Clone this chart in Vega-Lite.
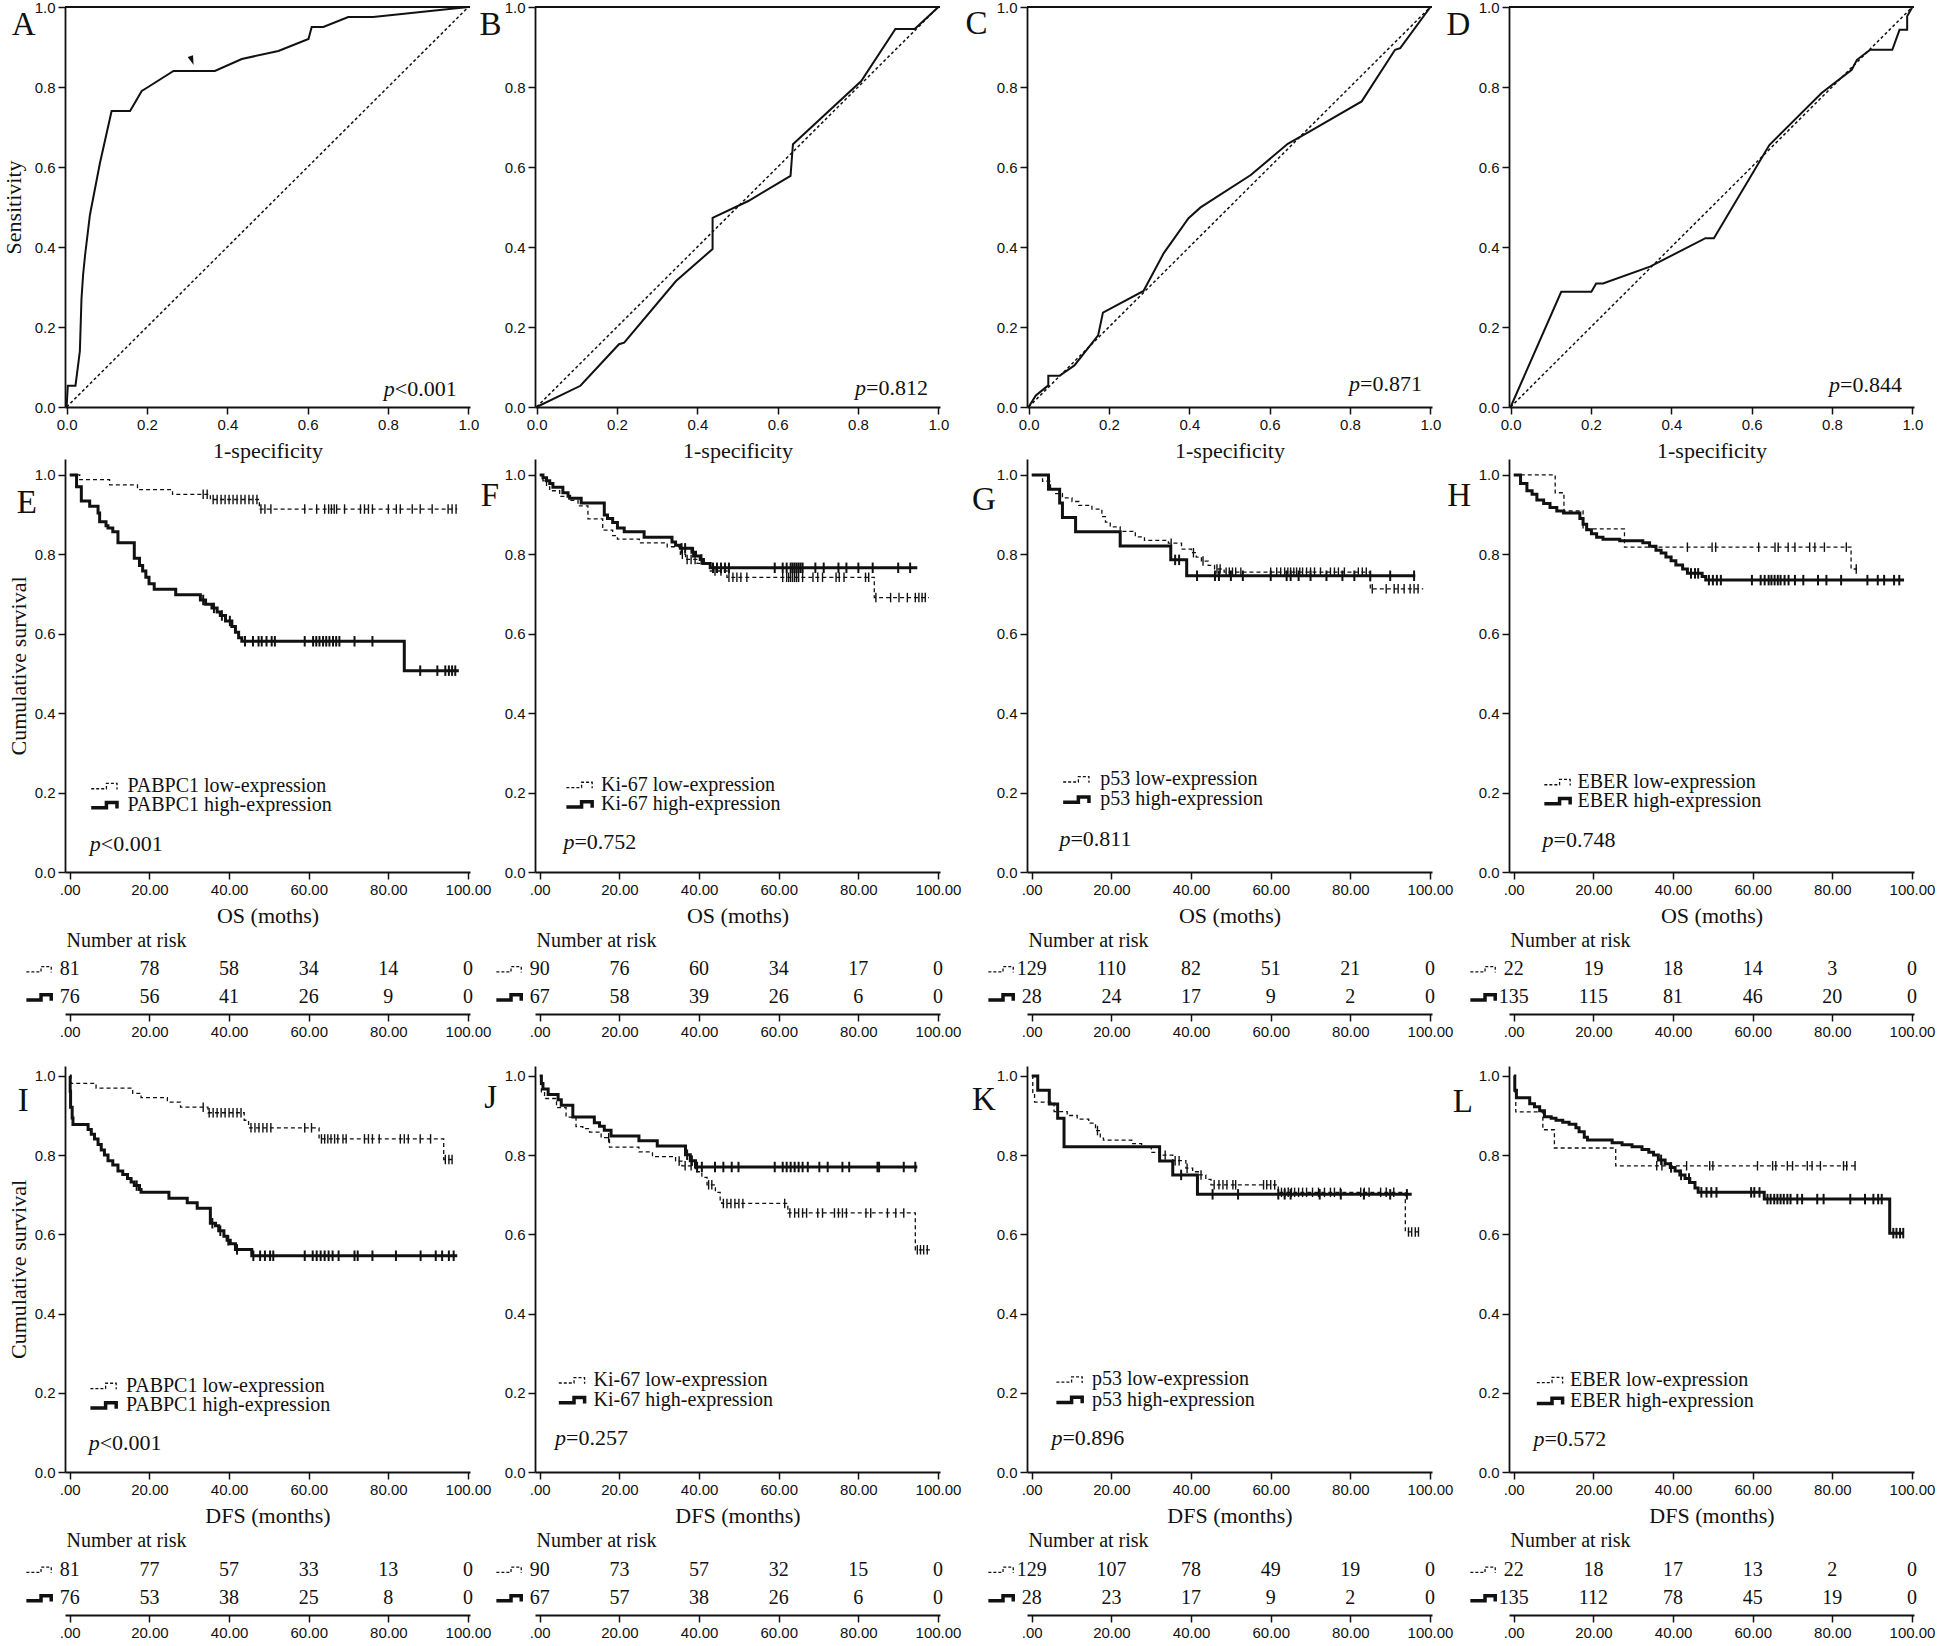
{
"$schema":"https://vega.github.io/schema/vega-lite/v6.json",
"background":"white",
"padding":{"left":2,"top":0,"right":10,"bottom":5},
"config":{
 "view":{"stroke":null},
 "axis":{"domainColor":"#111","domainWidth":1.8,"tickColor":"#111","tickWidth":1.5,"tickSize":7,"labelFont":"Liberation Sans","labelFontSize":15,"labelColor":"#111","titleFont":"Liberation Serif","titleFontSize":22,"titleFontWeight":"normal","titleColor":"#111","grid":false,"labelPadding":3,"titlePadding":6,"labelFlush":false,"labelOverlap":false},
 "axisX":{"titlePadding":8},
 "text":{"font":"Liberation Serif","fontSize":20,"color":"#111","baseline":"middle"}
},
"datasets":{
"roc":[
{"p":"A","fpr":0,"tpr":0},{"p":"A","fpr":0.003,"tpr":0.053},{"p":"A","fpr":0.022,"tpr":0.053},{"p":"A","fpr":0.028,"tpr":0.1},{"p":"A","fpr":0.033,"tpr":0.14},{"p":"A","fpr":0.037,"tpr":0.27},{"p":"A","fpr":0.041,"tpr":0.33},{"p":"A","fpr":0.046,"tpr":0.38},{"p":"A","fpr":0.058,"tpr":0.48},{"p":"A","fpr":0.083,"tpr":0.61},{"p":"A","fpr":0.112,"tpr":0.74},{"p":"A","fpr":0.158,"tpr":0.74},{"p":"A","fpr":0.187,"tpr":0.79},{"p":"A","fpr":0.203,"tpr":0.8},{"p":"A","fpr":0.266,"tpr":0.84},{"p":"A","fpr":0.369,"tpr":0.84},{"p":"A","fpr":0.436,"tpr":0.87},{"p":"A","fpr":0.527,"tpr":0.89},{"p":"A","fpr":0.602,"tpr":0.92},{"p":"A","fpr":0.61,"tpr":0.95},{"p":"A","fpr":0.639,"tpr":0.95},{"p":"A","fpr":0.701,"tpr":0.975},{"p":"A","fpr":0.763,"tpr":0.975},{"p":"A","fpr":1,"tpr":1},
{"p":"B","fpr":0,"tpr":0},{"p":"B","fpr":0.109,"tpr":0.053},{"p":"B","fpr":0.205,"tpr":0.157},{"p":"B","fpr":0.218,"tpr":0.161},{"p":"B","fpr":0.347,"tpr":0.315},{"p":"B","fpr":0.438,"tpr":0.395},{"p":"B","fpr":0.438,"tpr":0.473},{"p":"B","fpr":0.527,"tpr":0.515},{"p":"B","fpr":0.632,"tpr":0.578},{"p":"B","fpr":0.638,"tpr":0.657},{"p":"B","fpr":0.808,"tpr":0.815},{"p":"B","fpr":0.893,"tpr":0.945},{"p":"B","fpr":0.941,"tpr":0.945},{"p":"B","fpr":1,"tpr":1},
{"p":"C","fpr":0,"tpr":0},{"p":"C","fpr":0.018,"tpr":0.029},{"p":"C","fpr":0.049,"tpr":0.054},{"p":"C","fpr":0.049,"tpr":0.078},{"p":"C","fpr":0.077,"tpr":0.078},{"p":"C","fpr":0.114,"tpr":0.104},{"p":"C","fpr":0.173,"tpr":0.179},{"p":"C","fpr":0.185,"tpr":0.236},{"p":"C","fpr":0.286,"tpr":0.29},{"p":"C","fpr":0.336,"tpr":0.384},{"p":"C","fpr":0.398,"tpr":0.472},{"p":"C","fpr":0.428,"tpr":0.499},{"p":"C","fpr":0.553,"tpr":0.58},{"p":"C","fpr":0.645,"tpr":0.658},{"p":"C","fpr":0.7,"tpr":0.689},{"p":"C","fpr":0.829,"tpr":0.764},{"p":"C","fpr":0.912,"tpr":0.893},{"p":"C","fpr":0.925,"tpr":0.897},{"p":"C","fpr":1,"tpr":1},
{"p":"D","fpr":0,"tpr":0},{"p":"D","fpr":0.126,"tpr":0.288},{"p":"D","fpr":0.201,"tpr":0.288},{"p":"D","fpr":0.213,"tpr":0.309},{"p":"D","fpr":0.23,"tpr":0.309},{"p":"D","fpr":0.347,"tpr":0.351},{"p":"D","fpr":0.485,"tpr":0.422},{"p":"D","fpr":0.506,"tpr":0.422},{"p":"D","fpr":0.644,"tpr":0.655},{"p":"D","fpr":0.774,"tpr":0.785},{"p":"D","fpr":0.849,"tpr":0.843},{"p":"D","fpr":0.862,"tpr":0.868},{"p":"D","fpr":0.895,"tpr":0.893},{"p":"D","fpr":0.95,"tpr":0.893},{"p":"D","fpr":0.968,"tpr":0.943},{"p":"D","fpr":0.987,"tpr":0.943},{"p":"D","fpr":0.987,"tpr":0.977},{"p":"D","fpr":1,"tpr":1}
],
"km":[
{"p":"E","g":"lo","t":0,"s":1},{"p":"E","g":"lo","t":2.5,"s":0.988},{"p":"E","g":"lo","t":10,"s":0.975},{"p":"E","g":"lo","t":17,"s":0.963},{"p":"E","g":"lo","t":25.8,"s":0.951},{"p":"E","g":"lo","t":35.3,"s":0.938},{"p":"E","g":"lo","t":47.6,"s":0.914},{"p":"E","g":"lo","t":97.3,"s":0.914},
{"p":"E","g":"hi","t":0,"s":1},{"p":"E","g":"hi","t":1.7,"s":0.97},{"p":"E","g":"hi","t":2.9,"s":0.934},{"p":"E","g":"hi","t":5,"s":0.921},{"p":"E","g":"hi","t":7.1,"s":0.904},{"p":"E","g":"hi","t":7.5,"s":0.882},{"p":"E","g":"hi","t":9.1,"s":0.872},{"p":"E","g":"hi","t":9.6,"s":0.866},{"p":"E","g":"hi","t":10.8,"s":0.857},{"p":"E","g":"hi","t":12.1,"s":0.829},{"p":"E","g":"hi","t":16.2,"s":0.79},{"p":"E","g":"hi","t":17.5,"s":0.772},{"p":"E","g":"hi","t":18.3,"s":0.758},{"p":"E","g":"hi","t":19.1,"s":0.742},{"p":"E","g":"hi","t":19.9,"s":0.726},{"p":"E","g":"hi","t":21.2,"s":0.712},{"p":"E","g":"hi","t":26.6,"s":0.698},{"p":"E","g":"hi","t":32.8,"s":0.685},{"p":"E","g":"hi","t":34.1,"s":0.674},{"p":"E","g":"hi","t":35.7,"s":0.665},{"p":"E","g":"hi","t":37,"s":0.655},{"p":"E","g":"hi","t":37.8,"s":0.646},{"p":"E","g":"hi","t":39.1,"s":0.632},{"p":"E","g":"hi","t":40.7,"s":0.618},{"p":"E","g":"hi","t":41.6,"s":0.604},{"p":"E","g":"hi","t":42.4,"s":0.59},{"p":"E","g":"hi","t":43.2,"s":0.581},{"p":"E","g":"hi","t":84,"s":0.507},{"p":"E","g":"hi","t":97.7,"s":0.507},
{"p":"F","g":"lo","t":0,"s":1},{"p":"F","g":"lo","t":0.8,"s":0.985},{"p":"F","g":"lo","t":1.7,"s":0.97},{"p":"F","g":"lo","t":2.5,"s":0.96},{"p":"F","g":"lo","t":5,"s":0.946},{"p":"F","g":"lo","t":7.5,"s":0.936},{"p":"F","g":"lo","t":9.6,"s":0.922},{"p":"F","g":"lo","t":12.1,"s":0.889},{"p":"F","g":"lo","t":15.8,"s":0.861},{"p":"F","g":"lo","t":18.3,"s":0.847},{"p":"F","g":"lo","t":19.5,"s":0.838},{"p":"F","g":"lo","t":25,"s":0.829},{"p":"F","g":"lo","t":32,"s":0.819},{"p":"F","g":"lo","t":35.3,"s":0.8},{"p":"F","g":"lo","t":36.6,"s":0.787},{"p":"F","g":"lo","t":39.5,"s":0.777},{"p":"F","g":"lo","t":42.8,"s":0.758},{"p":"F","g":"lo","t":47,"s":0.742},{"p":"F","g":"lo","t":84,"s":0.691},{"p":"F","g":"lo","t":97.7,"s":0.691},
{"p":"F","g":"hi","t":0,"s":1},{"p":"F","g":"hi","t":0.8,"s":0.993},{"p":"F","g":"hi","t":1.7,"s":0.985},{"p":"F","g":"hi","t":2.5,"s":0.978},{"p":"F","g":"hi","t":3.3,"s":0.969},{"p":"F","g":"hi","t":5.8,"s":0.955},{"p":"F","g":"hi","t":7.1,"s":0.946},{"p":"F","g":"hi","t":7.5,"s":0.941},{"p":"F","g":"hi","t":10.4,"s":0.929},{"p":"F","g":"hi","t":16.2,"s":0.899},{"p":"F","g":"hi","t":17,"s":0.89},{"p":"F","g":"hi","t":18.3,"s":0.88},{"p":"F","g":"hi","t":19.5,"s":0.866},{"p":"F","g":"hi","t":21.2,"s":0.857},{"p":"F","g":"hi","t":26.2,"s":0.843},{"p":"F","g":"hi","t":33.2,"s":0.831},{"p":"F","g":"hi","t":34.1,"s":0.823},{"p":"F","g":"hi","t":35.3,"s":0.815},{"p":"F","g":"hi","t":38.2,"s":0.805},{"p":"F","g":"hi","t":39.1,"s":0.796},{"p":"F","g":"hi","t":40.3,"s":0.787},{"p":"F","g":"hi","t":41.1,"s":0.777},{"p":"F","g":"hi","t":42.8,"s":0.766},{"p":"F","g":"hi","t":94.8,"s":0.766},
{"p":"G","g":"lo","t":0,"s":1},{"p":"G","g":"lo","t":2.7,"s":0.984},{"p":"G","g":"lo","t":4.7,"s":0.965},{"p":"G","g":"lo","t":6,"s":0.953},{"p":"G","g":"lo","t":7.7,"s":0.942},{"p":"G","g":"lo","t":10.1,"s":0.933},{"p":"G","g":"lo","t":11.8,"s":0.923},{"p":"G","g":"lo","t":15.1,"s":0.914},{"p":"G","g":"lo","t":17.6,"s":0.895},{"p":"G","g":"lo","t":18.5,"s":0.881},{"p":"G","g":"lo","t":19.7,"s":0.869},{"p":"G","g":"lo","t":22.2,"s":0.858},{"p":"G","g":"lo","t":26,"s":0.844},{"p":"G","g":"lo","t":28.3,"s":0.835},{"p":"G","g":"lo","t":34.3,"s":0.828},{"p":"G","g":"lo","t":37.6,"s":0.813},{"p":"G","g":"lo","t":40.1,"s":0.804},{"p":"G","g":"lo","t":41.3,"s":0.793},{"p":"G","g":"lo","t":42.6,"s":0.783},{"p":"G","g":"lo","t":44.3,"s":0.772},{"p":"G","g":"lo","t":45.9,"s":0.763},{"p":"G","g":"lo","t":48.3,"s":0.755},{"p":"G","g":"lo","t":85,"s":0.713},{"p":"G","g":"lo","t":98.3,"s":0.713},
{"p":"G","g":"hi","t":0,"s":1},{"p":"G","g":"hi","t":4.2,"s":0.964},{"p":"G","g":"hi","t":7,"s":0.929},{"p":"G","g":"hi","t":7.7,"s":0.893},{"p":"G","g":"hi","t":11,"s":0.857},{"p":"G","g":"hi","t":22.2,"s":0.821},{"p":"G","g":"hi","t":34.9,"s":0.786},{"p":"G","g":"hi","t":38.9,"s":0.746},{"p":"G","g":"hi","t":96.3,"s":0.746},
{"p":"H","g":"lo","t":0,"s":1},{"p":"H","g":"lo","t":10.4,"s":0.955},{"p":"H","g":"lo","t":12.6,"s":0.909},{"p":"H","g":"lo","t":17.4,"s":0.864},{"p":"H","g":"lo","t":27.8,"s":0.818},{"p":"H","g":"lo","t":84.7,"s":0.763},{"p":"H","g":"lo","t":86.2,"s":0.763},
{"p":"H","g":"hi","t":0,"s":1},{"p":"H","g":"hi","t":1.7,"s":0.978},{"p":"H","g":"hi","t":3.3,"s":0.96},{"p":"H","g":"hi","t":4.6,"s":0.951},{"p":"H","g":"hi","t":5.8,"s":0.937},{"p":"H","g":"hi","t":7.5,"s":0.928},{"p":"H","g":"hi","t":9.1,"s":0.918},{"p":"H","g":"hi","t":10.8,"s":0.909},{"p":"H","g":"hi","t":12.5,"s":0.904},{"p":"H","g":"hi","t":16.6,"s":0.89},{"p":"H","g":"hi","t":17.4,"s":0.876},{"p":"H","g":"hi","t":18.3,"s":0.862},{"p":"H","g":"hi","t":19.5,"s":0.852},{"p":"H","g":"hi","t":20.8,"s":0.843},{"p":"H","g":"hi","t":22.4,"s":0.838},{"p":"H","g":"hi","t":26.6,"s":0.834},{"p":"H","g":"hi","t":32.4,"s":0.829},{"p":"H","g":"hi","t":34.1,"s":0.82},{"p":"H","g":"hi","t":35.7,"s":0.81},{"p":"H","g":"hi","t":37,"s":0.803},{"p":"H","g":"hi","t":38.2,"s":0.793},{"p":"H","g":"hi","t":39.5,"s":0.784},{"p":"H","g":"hi","t":40.7,"s":0.773},{"p":"H","g":"hi","t":42.4,"s":0.763},{"p":"H","g":"hi","t":43.6,"s":0.752},{"p":"H","g":"hi","t":47.3,"s":0.744},{"p":"H","g":"hi","t":48.2,"s":0.735},{"p":"H","g":"hi","t":98,"s":0.735},
{"p":"I","g":"lo","t":0,"s":1},{"p":"I","g":"lo","t":0.3,"s":0.981},{"p":"I","g":"lo","t":6.6,"s":0.969},{"p":"I","g":"lo","t":15.8,"s":0.956},{"p":"I","g":"lo","t":17.9,"s":0.945},{"p":"I","g":"lo","t":24.5,"s":0.934},{"p":"I","g":"lo","t":27.8,"s":0.921},{"p":"I","g":"lo","t":34.7,"s":0.907},{"p":"I","g":"lo","t":43.8,"s":0.888},{"p":"I","g":"lo","t":44.9,"s":0.869},{"p":"I","g":"lo","t":62.6,"s":0.841},{"p":"I","g":"lo","t":93.9,"s":0.789},{"p":"I","g":"lo","t":96.8,"s":0.789},
{"p":"I","g":"hi","t":0,"s":1},{"p":"I","g":"hi","t":0.1,"s":0.961},{"p":"I","g":"hi","t":0.2,"s":0.921},{"p":"I","g":"hi","t":0.6,"s":0.894},{"p":"I","g":"hi","t":0.8,"s":0.877},{"p":"I","g":"hi","t":4.6,"s":0.865},{"p":"I","g":"hi","t":5.4,"s":0.853},{"p":"I","g":"hi","t":6.2,"s":0.841},{"p":"I","g":"hi","t":7.1,"s":0.827},{"p":"I","g":"hi","t":7.9,"s":0.813},{"p":"I","g":"hi","t":8.7,"s":0.8},{"p":"I","g":"hi","t":9.6,"s":0.786},{"p":"I","g":"hi","t":10.8,"s":0.775},{"p":"I","g":"hi","t":12.1,"s":0.76},{"p":"I","g":"hi","t":13.3,"s":0.751},{"p":"I","g":"hi","t":14.5,"s":0.741},{"p":"I","g":"hi","t":15.4,"s":0.732},{"p":"I","g":"hi","t":16.2,"s":0.723},{"p":"I","g":"hi","t":17.5,"s":0.713},{"p":"I","g":"hi","t":17.9,"s":0.706},{"p":"I","g":"hi","t":24.9,"s":0.691},{"p":"I","g":"hi","t":29.5,"s":0.68},{"p":"I","g":"hi","t":32,"s":0.666},{"p":"I","g":"hi","t":35.3,"s":0.628},{"p":"I","g":"hi","t":36.6,"s":0.622},{"p":"I","g":"hi","t":37.4,"s":0.609},{"p":"I","g":"hi","t":38.7,"s":0.595},{"p":"I","g":"hi","t":39.5,"s":0.585},{"p":"I","g":"hi","t":40.3,"s":0.576},{"p":"I","g":"hi","t":41.6,"s":0.562},{"p":"I","g":"hi","t":45.7,"s":0.546},{"p":"I","g":"hi","t":97.3,"s":0.546},
{"p":"J","g":"lo","t":0,"s":1},{"p":"J","g":"lo","t":0.4,"s":0.96},{"p":"J","g":"lo","t":1.2,"s":0.943},{"p":"J","g":"lo","t":4.2,"s":0.92},{"p":"J","g":"lo","t":6.6,"s":0.896},{"p":"J","g":"lo","t":9.1,"s":0.872},{"p":"J","g":"lo","t":10.8,"s":0.867},{"p":"J","g":"lo","t":12.5,"s":0.858},{"p":"J","g":"lo","t":15.4,"s":0.844},{"p":"J","g":"lo","t":17.5,"s":0.82},{"p":"J","g":"lo","t":24.9,"s":0.808},{"p":"J","g":"lo","t":28.3,"s":0.796},{"p":"J","g":"lo","t":34.1,"s":0.785},{"p":"J","g":"lo","t":35.7,"s":0.773},{"p":"J","g":"lo","t":39.1,"s":0.758},{"p":"J","g":"lo","t":40.7,"s":0.744},{"p":"J","g":"lo","t":42,"s":0.725},{"p":"J","g":"lo","t":44.1,"s":0.706},{"p":"J","g":"lo","t":45.3,"s":0.687},{"p":"J","g":"lo","t":45.7,"s":0.678},{"p":"J","g":"lo","t":62.3,"s":0.654},{"p":"J","g":"lo","t":94.3,"s":0.561},{"p":"J","g":"lo","t":98.1,"s":0.561},
{"p":"J","g":"hi","t":0,"s":1},{"p":"J","g":"hi","t":0.4,"s":0.981},{"p":"J","g":"hi","t":0.8,"s":0.967},{"p":"J","g":"hi","t":2.1,"s":0.953},{"p":"J","g":"hi","t":4.6,"s":0.94},{"p":"J","g":"hi","t":5.4,"s":0.926},{"p":"J","g":"hi","t":8.3,"s":0.896},{"p":"J","g":"hi","t":13.7,"s":0.882},{"p":"J","g":"hi","t":15,"s":0.873},{"p":"J","g":"hi","t":16.2,"s":0.863},{"p":"J","g":"hi","t":17.9,"s":0.848},{"p":"J","g":"hi","t":24.9,"s":0.836},{"p":"J","g":"hi","t":29.5,"s":0.823},{"p":"J","g":"hi","t":36.6,"s":0.801},{"p":"J","g":"hi","t":37.8,"s":0.786},{"p":"J","g":"hi","t":39.1,"s":0.77},{"p":"J","g":"hi","t":94.8,"s":0.77},
{"p":"K","g":"lo","t":0,"s":1},{"p":"K","g":"lo","t":0.25,"s":0.957},{"p":"K","g":"lo","t":0.7,"s":0.934},{"p":"K","g":"lo","t":5.6,"s":0.91},{"p":"K","g":"lo","t":8.9,"s":0.9},{"p":"K","g":"lo","t":11.4,"s":0.891},{"p":"K","g":"lo","t":14.3,"s":0.881},{"p":"K","g":"lo","t":16,"s":0.862},{"p":"K","g":"lo","t":17.2,"s":0.843},{"p":"K","g":"lo","t":18,"s":0.838},{"p":"K","g":"lo","t":25.1,"s":0.829},{"p":"K","g":"lo","t":27.6,"s":0.82},{"p":"K","g":"lo","t":30,"s":0.807},{"p":"K","g":"lo","t":32.1,"s":0.8},{"p":"K","g":"lo","t":35.4,"s":0.786},{"p":"K","g":"lo","t":38.7,"s":0.767},{"p":"K","g":"lo","t":40.4,"s":0.758},{"p":"K","g":"lo","t":42,"s":0.75},{"p":"K","g":"lo","t":43.7,"s":0.739},{"p":"K","g":"lo","t":45,"s":0.725},{"p":"K","g":"lo","t":61.9,"s":0.706},{"p":"K","g":"lo","t":93.8,"s":0.606},{"p":"K","g":"lo","t":97.1,"s":0.606},
{"p":"K","g":"hi","t":0,"s":1},{"p":"K","g":"hi","t":1.5,"s":0.964},{"p":"K","g":"hi","t":4.4,"s":0.929},{"p":"K","g":"hi","t":6.5,"s":0.893},{"p":"K","g":"hi","t":8.1,"s":0.821},{"p":"K","g":"hi","t":32.1,"s":0.785},{"p":"K","g":"hi","t":35.4,"s":0.75},{"p":"K","g":"hi","t":41.6,"s":0.701},{"p":"K","g":"hi","t":95.4,"s":0.701},
{"p":"L","g":"lo","t":0,"s":1},{"p":"L","g":"lo","t":0.3,"s":0.955},{"p":"L","g":"lo","t":0.5,"s":0.909},{"p":"L","g":"lo","t":7.3,"s":0.864},{"p":"L","g":"lo","t":10.2,"s":0.818},{"p":"L","g":"lo","t":25.6,"s":0.773},{"p":"L","g":"lo","t":86,"s":0.773},
{"p":"L","g":"hi","t":0,"s":1},{"p":"L","g":"hi","t":0.25,"s":0.964},{"p":"L","g":"hi","t":0.66,"s":0.945},{"p":"L","g":"hi","t":4,"s":0.93},{"p":"L","g":"hi","t":5.2,"s":0.922},{"p":"L","g":"hi","t":6.5,"s":0.912},{"p":"L","g":"hi","t":7.7,"s":0.897},{"p":"L","g":"hi","t":9.4,"s":0.893},{"p":"L","g":"hi","t":10.6,"s":0.888},{"p":"L","g":"hi","t":12.3,"s":0.883},{"p":"L","g":"hi","t":13.9,"s":0.878},{"p":"L","g":"hi","t":15.6,"s":0.869},{"p":"L","g":"hi","t":16.4,"s":0.859},{"p":"L","g":"hi","t":17.7,"s":0.845},{"p":"L","g":"hi","t":18.5,"s":0.838},{"p":"L","g":"hi","t":24.7,"s":0.831},{"p":"L","g":"hi","t":27.2,"s":0.826},{"p":"L","g":"hi","t":29.7,"s":0.821},{"p":"L","g":"hi","t":32.2,"s":0.814},{"p":"L","g":"hi","t":33.9,"s":0.807},{"p":"L","g":"hi","t":35.1,"s":0.8},{"p":"L","g":"hi","t":36.3,"s":0.788},{"p":"L","g":"hi","t":38,"s":0.778},{"p":"L","g":"hi","t":39.3,"s":0.769},{"p":"L","g":"hi","t":40.5,"s":0.76},{"p":"L","g":"hi","t":41.7,"s":0.75},{"p":"L","g":"hi","t":43,"s":0.741},{"p":"L","g":"hi","t":44.2,"s":0.731},{"p":"L","g":"hi","t":45.5,"s":0.717},{"p":"L","g":"hi","t":46.3,"s":0.706},{"p":"L","g":"hi","t":62.9,"s":0.689},{"p":"L","g":"hi","t":94.4,"s":0.603},{"p":"L","g":"hi","t":97.8,"s":0.603}
],
"cens":[
{"p":"E","g":"lo","t":33.5,"s":0.951},{"p":"E","g":"lo","t":34.5,"s":0.951},{"p":"E","g":"lo","t":36,"s":0.938},{"p":"E","g":"lo","t":37,"s":0.938},{"p":"E","g":"lo","t":38,"s":0.938},{"p":"E","g":"lo","t":39,"s":0.938},{"p":"E","g":"lo","t":40,"s":0.938},{"p":"E","g":"lo","t":41,"s":0.938},{"p":"E","g":"lo","t":42,"s":0.938},{"p":"E","g":"lo","t":43,"s":0.938},{"p":"E","g":"lo","t":44,"s":0.938},{"p":"E","g":"lo","t":45,"s":0.938},{"p":"E","g":"lo","t":46,"s":0.938},{"p":"E","g":"lo","t":47,"s":0.938},{"p":"E","g":"lo","t":48,"s":0.914},{"p":"E","g":"lo","t":49,"s":0.914},{"p":"E","g":"lo","t":50.5,"s":0.914},{"p":"E","g":"lo","t":59,"s":0.914},{"p":"E","g":"lo","t":62,"s":0.914},{"p":"E","g":"lo","t":64,"s":0.914},{"p":"E","g":"lo","t":65,"s":0.914},{"p":"E","g":"lo","t":65.7,"s":0.914},{"p":"E","g":"lo","t":66.4,"s":0.914},{"p":"E","g":"lo","t":67,"s":0.914},{"p":"E","g":"lo","t":69,"s":0.914},{"p":"E","g":"lo","t":73,"s":0.914},{"p":"E","g":"lo","t":74,"s":0.914},{"p":"E","g":"lo","t":75,"s":0.914},{"p":"E","g":"lo","t":76,"s":0.914},{"p":"E","g":"lo","t":80,"s":0.914},{"p":"E","g":"lo","t":82,"s":0.914},{"p":"E","g":"lo","t":83,"s":0.914},{"p":"E","g":"lo","t":86,"s":0.914},{"p":"E","g":"lo","t":88,"s":0.914},{"p":"E","g":"lo","t":91,"s":0.914},{"p":"E","g":"lo","t":95,"s":0.914},{"p":"E","g":"lo","t":96,"s":0.914},{"p":"E","g":"lo","t":97,"s":0.914},
{"p":"E","g":"hi","t":33.5,"s":0.685},{"p":"E","g":"hi","t":36.2,"s":0.665},{"p":"E","g":"hi","t":38.2,"s":0.646},{"p":"E","g":"hi","t":40.2,"s":0.632},{"p":"E","g":"hi","t":44,"s":0.581},{"p":"E","g":"hi","t":46,"s":0.581},{"p":"E","g":"hi","t":47.4,"s":0.581},{"p":"E","g":"hi","t":48.2,"s":0.581},{"p":"E","g":"hi","t":49.4,"s":0.581},{"p":"E","g":"hi","t":50.7,"s":0.581},{"p":"E","g":"hi","t":51.5,"s":0.581},{"p":"E","g":"hi","t":59,"s":0.581},{"p":"E","g":"hi","t":61.1,"s":0.581},{"p":"E","g":"hi","t":61.9,"s":0.581},{"p":"E","g":"hi","t":62.7,"s":0.581},{"p":"E","g":"hi","t":63.6,"s":0.581},{"p":"E","g":"hi","t":64.4,"s":0.581},{"p":"E","g":"hi","t":65.2,"s":0.581},{"p":"E","g":"hi","t":66.1,"s":0.581},{"p":"E","g":"hi","t":66.9,"s":0.581},{"p":"E","g":"hi","t":67.7,"s":0.581},{"p":"E","g":"hi","t":71.5,"s":0.581},{"p":"E","g":"hi","t":76,"s":0.581},{"p":"E","g":"hi","t":88,"s":0.507},{"p":"E","g":"hi","t":92.3,"s":0.507},{"p":"E","g":"hi","t":94.3,"s":0.507},{"p":"E","g":"hi","t":95.2,"s":0.507},{"p":"E","g":"hi","t":96,"s":0.507},{"p":"E","g":"hi","t":96.8,"s":0.507},
{"p":"F","g":"lo","t":35.8,"s":0.8},{"p":"F","g":"lo","t":37,"s":0.787},{"p":"F","g":"lo","t":38,"s":0.787},{"p":"F","g":"lo","t":39,"s":0.787},{"p":"F","g":"lo","t":44,"s":0.758},{"p":"F","g":"lo","t":45.5,"s":0.758},{"p":"F","g":"lo","t":47.5,"s":0.742},{"p":"F","g":"lo","t":48.5,"s":0.742},{"p":"F","g":"lo","t":49.5,"s":0.742},{"p":"F","g":"lo","t":50.5,"s":0.742},{"p":"F","g":"lo","t":52,"s":0.742},{"p":"F","g":"lo","t":61,"s":0.742},{"p":"F","g":"lo","t":62,"s":0.742},{"p":"F","g":"lo","t":62.5,"s":0.742},{"p":"F","g":"lo","t":63,"s":0.742},{"p":"F","g":"lo","t":63.5,"s":0.742},{"p":"F","g":"lo","t":64,"s":0.742},{"p":"F","g":"lo","t":64.5,"s":0.742},{"p":"F","g":"lo","t":65,"s":0.742},{"p":"F","g":"lo","t":66,"s":0.742},{"p":"F","g":"lo","t":68.6,"s":0.742},{"p":"F","g":"lo","t":69.8,"s":0.742},{"p":"F","g":"lo","t":71,"s":0.742},{"p":"F","g":"lo","t":74.4,"s":0.742},{"p":"F","g":"lo","t":75.2,"s":0.742},{"p":"F","g":"lo","t":76.4,"s":0.742},{"p":"F","g":"lo","t":81.8,"s":0.742},{"p":"F","g":"lo","t":82.6,"s":0.742},{"p":"F","g":"lo","t":84.4,"s":0.691},{"p":"F","g":"lo","t":88.1,"s":0.691},{"p":"F","g":"lo","t":90.2,"s":0.691},{"p":"F","g":"lo","t":92.3,"s":0.691},{"p":"F","g":"lo","t":94.3,"s":0.691},{"p":"F","g":"lo","t":95.2,"s":0.691},{"p":"F","g":"lo","t":96,"s":0.691},{"p":"F","g":"lo","t":96.8,"s":0.691},
{"p":"F","g":"hi","t":35.6,"s":0.815},{"p":"F","g":"hi","t":36.5,"s":0.815},{"p":"F","g":"hi","t":38.5,"s":0.805},{"p":"F","g":"hi","t":40.6,"s":0.787},{"p":"F","g":"hi","t":43.5,"s":0.766},{"p":"F","g":"hi","t":44.5,"s":0.766},{"p":"F","g":"hi","t":45.5,"s":0.766},{"p":"F","g":"hi","t":46.5,"s":0.766},{"p":"F","g":"hi","t":47.5,"s":0.766},{"p":"F","g":"hi","t":59,"s":0.766},{"p":"F","g":"hi","t":61,"s":0.766},{"p":"F","g":"hi","t":62,"s":0.766},{"p":"F","g":"hi","t":63,"s":0.766},{"p":"F","g":"hi","t":63.5,"s":0.766},{"p":"F","g":"hi","t":64,"s":0.766},{"p":"F","g":"hi","t":64.5,"s":0.766},{"p":"F","g":"hi","t":65,"s":0.766},{"p":"F","g":"hi","t":65.5,"s":0.766},{"p":"F","g":"hi","t":66,"s":0.766},{"p":"F","g":"hi","t":69.2,"s":0.766},{"p":"F","g":"hi","t":71.3,"s":0.766},{"p":"F","g":"hi","t":75,"s":0.766},{"p":"F","g":"hi","t":77,"s":0.766},{"p":"F","g":"hi","t":80,"s":0.766},{"p":"F","g":"hi","t":83.6,"s":0.766},{"p":"F","g":"hi","t":90,"s":0.766},{"p":"F","g":"hi","t":93,"s":0.766},
{"p":"G","g":"lo","t":35,"s":0.828},{"p":"G","g":"lo","t":40.6,"s":0.804},{"p":"G","g":"lo","t":43,"s":0.783},{"p":"G","g":"lo","t":46.5,"s":0.763},{"p":"G","g":"lo","t":47.3,"s":0.763},{"p":"G","g":"lo","t":48.8,"s":0.755},{"p":"G","g":"lo","t":49.6,"s":0.755},{"p":"G","g":"lo","t":50.4,"s":0.755},{"p":"G","g":"lo","t":51.2,"s":0.755},{"p":"G","g":"lo","t":52.5,"s":0.755},{"p":"G","g":"lo","t":60,"s":0.755},{"p":"G","g":"lo","t":61.5,"s":0.755},{"p":"G","g":"lo","t":62.5,"s":0.755},{"p":"G","g":"lo","t":63.5,"s":0.755},{"p":"G","g":"lo","t":64.3,"s":0.755},{"p":"G","g":"lo","t":65,"s":0.755},{"p":"G","g":"lo","t":65.8,"s":0.755},{"p":"G","g":"lo","t":66.5,"s":0.755},{"p":"G","g":"lo","t":67.3,"s":0.755},{"p":"G","g":"lo","t":68,"s":0.755},{"p":"G","g":"lo","t":69,"s":0.755},{"p":"G","g":"lo","t":70,"s":0.755},{"p":"G","g":"lo","t":71,"s":0.755},{"p":"G","g":"lo","t":72.5,"s":0.755},{"p":"G","g":"lo","t":75,"s":0.755},{"p":"G","g":"lo","t":76,"s":0.755},{"p":"G","g":"lo","t":77,"s":0.755},{"p":"G","g":"lo","t":78.5,"s":0.755},{"p":"G","g":"lo","t":82,"s":0.755},{"p":"G","g":"lo","t":83,"s":0.755},{"p":"G","g":"lo","t":84,"s":0.755},{"p":"G","g":"lo","t":85.5,"s":0.713},{"p":"G","g":"lo","t":89,"s":0.713},{"p":"G","g":"lo","t":91,"s":0.713},{"p":"G","g":"lo","t":92,"s":0.713},{"p":"G","g":"lo","t":93.5,"s":0.713},{"p":"G","g":"lo","t":95,"s":0.713},{"p":"G","g":"lo","t":96,"s":0.713},{"p":"G","g":"lo","t":97,"s":0.713},
{"p":"G","g":"hi","t":36,"s":0.786},{"p":"G","g":"hi","t":37,"s":0.786},{"p":"G","g":"hi","t":41.5,"s":0.746},{"p":"G","g":"hi","t":46,"s":0.746},{"p":"G","g":"hi","t":47,"s":0.746},{"p":"G","g":"hi","t":50,"s":0.746},{"p":"G","g":"hi","t":53,"s":0.746},{"p":"G","g":"hi","t":60,"s":0.746},{"p":"G","g":"hi","t":64,"s":0.746},{"p":"G","g":"hi","t":65,"s":0.746},{"p":"G","g":"hi","t":67,"s":0.746},{"p":"G","g":"hi","t":70,"s":0.746},{"p":"G","g":"hi","t":74,"s":0.746},{"p":"G","g":"hi","t":78,"s":0.746},{"p":"G","g":"hi","t":81,"s":0.746},{"p":"G","g":"hi","t":85,"s":0.746},{"p":"G","g":"hi","t":90,"s":0.746},{"p":"G","g":"hi","t":96,"s":0.746},
{"p":"H","g":"lo","t":43.6,"s":0.818},{"p":"H","g":"lo","t":49.8,"s":0.818},{"p":"H","g":"lo","t":50.7,"s":0.818},{"p":"H","g":"lo","t":61.5,"s":0.818},{"p":"H","g":"lo","t":65.6,"s":0.818},{"p":"H","g":"lo","t":66.4,"s":0.818},{"p":"H","g":"lo","t":68.9,"s":0.818},{"p":"H","g":"lo","t":70.6,"s":0.818},{"p":"H","g":"lo","t":74.3,"s":0.818},{"p":"H","g":"lo","t":75.6,"s":0.818},{"p":"H","g":"lo","t":78,"s":0.818},{"p":"H","g":"lo","t":83.5,"s":0.818},{"p":"H","g":"lo","t":86,"s":0.763},
{"p":"H","g":"hi","t":44.5,"s":0.752},{"p":"H","g":"hi","t":45.5,"s":0.752},{"p":"H","g":"hi","t":46.3,"s":0.752},{"p":"H","g":"hi","t":49,"s":0.735},{"p":"H","g":"hi","t":50,"s":0.735},{"p":"H","g":"hi","t":51,"s":0.735},{"p":"H","g":"hi","t":52,"s":0.735},{"p":"H","g":"hi","t":59.8,"s":0.735},{"p":"H","g":"hi","t":62,"s":0.735},{"p":"H","g":"hi","t":63,"s":0.735},{"p":"H","g":"hi","t":64,"s":0.735},{"p":"H","g":"hi","t":64.7,"s":0.735},{"p":"H","g":"hi","t":65.5,"s":0.735},{"p":"H","g":"hi","t":66.3,"s":0.735},{"p":"H","g":"hi","t":67,"s":0.735},{"p":"H","g":"hi","t":68,"s":0.735},{"p":"H","g":"hi","t":69,"s":0.735},{"p":"H","g":"hi","t":70.6,"s":0.735},{"p":"H","g":"hi","t":72.7,"s":0.735},{"p":"H","g":"hi","t":76.4,"s":0.735},{"p":"H","g":"hi","t":78.5,"s":0.735},{"p":"H","g":"hi","t":82.2,"s":0.735},{"p":"H","g":"hi","t":88.8,"s":0.735},{"p":"H","g":"hi","t":91.4,"s":0.735},{"p":"H","g":"hi","t":93,"s":0.735},{"p":"H","g":"hi","t":95.5,"s":0.735},{"p":"H","g":"hi","t":96.8,"s":0.735},
{"p":"I","g":"lo","t":33.5,"s":0.921},{"p":"I","g":"lo","t":35,"s":0.907},{"p":"I","g":"lo","t":36,"s":0.907},{"p":"I","g":"lo","t":37,"s":0.907},{"p":"I","g":"lo","t":38,"s":0.907},{"p":"I","g":"lo","t":39,"s":0.907},{"p":"I","g":"lo","t":40,"s":0.907},{"p":"I","g":"lo","t":41,"s":0.907},{"p":"I","g":"lo","t":42,"s":0.907},{"p":"I","g":"lo","t":43,"s":0.907},{"p":"I","g":"lo","t":45.5,"s":0.869},{"p":"I","g":"lo","t":46.5,"s":0.869},{"p":"I","g":"lo","t":47.5,"s":0.869},{"p":"I","g":"lo","t":48.5,"s":0.869},{"p":"I","g":"lo","t":49.5,"s":0.869},{"p":"I","g":"lo","t":50.5,"s":0.869},{"p":"I","g":"lo","t":59,"s":0.869},{"p":"I","g":"lo","t":60.7,"s":0.869},{"p":"I","g":"lo","t":63.2,"s":0.841},{"p":"I","g":"lo","t":64,"s":0.841},{"p":"I","g":"lo","t":64.8,"s":0.841},{"p":"I","g":"lo","t":65.6,"s":0.841},{"p":"I","g":"lo","t":66.5,"s":0.841},{"p":"I","g":"lo","t":67.3,"s":0.841},{"p":"I","g":"lo","t":68.6,"s":0.841},{"p":"I","g":"lo","t":69.4,"s":0.841},{"p":"I","g":"lo","t":74,"s":0.841},{"p":"I","g":"lo","t":75,"s":0.841},{"p":"I","g":"lo","t":76,"s":0.841},{"p":"I","g":"lo","t":77.7,"s":0.841},{"p":"I","g":"lo","t":83,"s":0.841},{"p":"I","g":"lo","t":84,"s":0.841},{"p":"I","g":"lo","t":85,"s":0.841},{"p":"I","g":"lo","t":88,"s":0.841},{"p":"I","g":"lo","t":90.6,"s":0.841},{"p":"I","g":"lo","t":94.3,"s":0.789},{"p":"I","g":"lo","t":95.2,"s":0.789},{"p":"I","g":"lo","t":96,"s":0.789},
{"p":"I","g":"hi","t":16.8,"s":0.723},{"p":"I","g":"hi","t":35.8,"s":0.628},{"p":"I","g":"hi","t":37.8,"s":0.609},{"p":"I","g":"hi","t":39.8,"s":0.585},{"p":"I","g":"hi","t":42,"s":0.562},{"p":"I","g":"hi","t":46.1,"s":0.546},{"p":"I","g":"hi","t":47.8,"s":0.546},{"p":"I","g":"hi","t":49,"s":0.546},{"p":"I","g":"hi","t":50.3,"s":0.546},{"p":"I","g":"hi","t":51.1,"s":0.546},{"p":"I","g":"hi","t":59,"s":0.546},{"p":"I","g":"hi","t":61,"s":0.546},{"p":"I","g":"hi","t":62,"s":0.546},{"p":"I","g":"hi","t":63,"s":0.546},{"p":"I","g":"hi","t":64,"s":0.546},{"p":"I","g":"hi","t":65,"s":0.546},{"p":"I","g":"hi","t":66,"s":0.546},{"p":"I","g":"hi","t":67.5,"s":0.546},{"p":"I","g":"hi","t":71.5,"s":0.546},{"p":"I","g":"hi","t":72.3,"s":0.546},{"p":"I","g":"hi","t":76,"s":0.546},{"p":"I","g":"hi","t":81.9,"s":0.546},{"p":"I","g":"hi","t":88.1,"s":0.546},{"p":"I","g":"hi","t":91.9,"s":0.546},{"p":"I","g":"hi","t":93.5,"s":0.546},{"p":"I","g":"hi","t":95.2,"s":0.546},{"p":"I","g":"hi","t":96.4,"s":0.546},
{"p":"J","g":"lo","t":17.3,"s":0.844},{"p":"J","g":"lo","t":35,"s":0.785},{"p":"J","g":"lo","t":36.5,"s":0.773},{"p":"J","g":"lo","t":38,"s":0.773},{"p":"J","g":"lo","t":42.4,"s":0.725},{"p":"J","g":"lo","t":43.2,"s":0.725},{"p":"J","g":"lo","t":46.1,"s":0.678},{"p":"J","g":"lo","t":47,"s":0.678},{"p":"J","g":"lo","t":48,"s":0.678},{"p":"J","g":"lo","t":49,"s":0.678},{"p":"J","g":"lo","t":50,"s":0.678},{"p":"J","g":"lo","t":51,"s":0.678},{"p":"J","g":"lo","t":61.5,"s":0.678},{"p":"J","g":"lo","t":62.8,"s":0.654},{"p":"J","g":"lo","t":64,"s":0.654},{"p":"J","g":"lo","t":65,"s":0.654},{"p":"J","g":"lo","t":66,"s":0.654},{"p":"J","g":"lo","t":67,"s":0.654},{"p":"J","g":"lo","t":69.8,"s":0.654},{"p":"J","g":"lo","t":71,"s":0.654},{"p":"J","g":"lo","t":74,"s":0.654},{"p":"J","g":"lo","t":75,"s":0.654},{"p":"J","g":"lo","t":76,"s":0.654},{"p":"J","g":"lo","t":77,"s":0.654},{"p":"J","g":"lo","t":81.9,"s":0.654},{"p":"J","g":"lo","t":83.1,"s":0.654},{"p":"J","g":"lo","t":87.3,"s":0.654},{"p":"J","g":"lo","t":89.4,"s":0.654},{"p":"J","g":"lo","t":91.4,"s":0.654},{"p":"J","g":"lo","t":94.8,"s":0.561},{"p":"J","g":"lo","t":95.6,"s":0.561},{"p":"J","g":"lo","t":96.4,"s":0.561},{"p":"J","g":"lo","t":97.3,"s":0.561},
{"p":"J","g":"hi","t":37,"s":0.801},{"p":"J","g":"hi","t":38.2,"s":0.786},{"p":"J","g":"hi","t":39.5,"s":0.77},{"p":"J","g":"hi","t":40.7,"s":0.77},{"p":"J","g":"hi","t":44,"s":0.77},{"p":"J","g":"hi","t":46.1,"s":0.77},{"p":"J","g":"hi","t":48.2,"s":0.77},{"p":"J","g":"hi","t":49.9,"s":0.77},{"p":"J","g":"hi","t":59,"s":0.77},{"p":"J","g":"hi","t":61,"s":0.77},{"p":"J","g":"hi","t":62,"s":0.77},{"p":"J","g":"hi","t":63,"s":0.77},{"p":"J","g":"hi","t":64,"s":0.77},{"p":"J","g":"hi","t":65,"s":0.77},{"p":"J","g":"hi","t":66,"s":0.77},{"p":"J","g":"hi","t":67.3,"s":0.77},{"p":"J","g":"hi","t":70.2,"s":0.77},{"p":"J","g":"hi","t":72.3,"s":0.77},{"p":"J","g":"hi","t":76,"s":0.77},{"p":"J","g":"hi","t":77.7,"s":0.77},{"p":"J","g":"hi","t":84.8,"s":0.77},{"p":"J","g":"hi","t":85.2,"s":0.77},{"p":"J","g":"hi","t":91.4,"s":0.77},{"p":"J","g":"hi","t":94.3,"s":0.77},
{"p":"K","g":"lo","t":16.5,"s":0.862},{"p":"K","g":"lo","t":33.5,"s":0.8},{"p":"K","g":"lo","t":36,"s":0.786},{"p":"K","g":"lo","t":37,"s":0.786},{"p":"K","g":"lo","t":39,"s":0.767},{"p":"K","g":"lo","t":42.5,"s":0.75},{"p":"K","g":"lo","t":45.8,"s":0.725},{"p":"K","g":"lo","t":47,"s":0.725},{"p":"K","g":"lo","t":48,"s":0.725},{"p":"K","g":"lo","t":49,"s":0.725},{"p":"K","g":"lo","t":50.5,"s":0.725},{"p":"K","g":"lo","t":51.2,"s":0.725},{"p":"K","g":"lo","t":58.2,"s":0.725},{"p":"K","g":"lo","t":59,"s":0.725},{"p":"K","g":"lo","t":60,"s":0.725},{"p":"K","g":"lo","t":61,"s":0.725},{"p":"K","g":"lo","t":62.7,"s":0.706},{"p":"K","g":"lo","t":63.5,"s":0.706},{"p":"K","g":"lo","t":64.4,"s":0.706},{"p":"K","g":"lo","t":65.2,"s":0.706},{"p":"K","g":"lo","t":66,"s":0.706},{"p":"K","g":"lo","t":67,"s":0.706},{"p":"K","g":"lo","t":68,"s":0.706},{"p":"K","g":"lo","t":69,"s":0.706},{"p":"K","g":"lo","t":70.5,"s":0.706},{"p":"K","g":"lo","t":72,"s":0.706},{"p":"K","g":"lo","t":73.5,"s":0.706},{"p":"K","g":"lo","t":75,"s":0.706},{"p":"K","g":"lo","t":76,"s":0.706},{"p":"K","g":"lo","t":77.5,"s":0.706},{"p":"K","g":"lo","t":82.6,"s":0.706},{"p":"K","g":"lo","t":83.5,"s":0.706},{"p":"K","g":"lo","t":84.7,"s":0.706},{"p":"K","g":"lo","t":87.6,"s":0.706},{"p":"K","g":"lo","t":89,"s":0.706},{"p":"K","g":"lo","t":90.9,"s":0.706},{"p":"K","g":"lo","t":94.6,"s":0.606},{"p":"K","g":"lo","t":95.4,"s":0.606},{"p":"K","g":"lo","t":96.3,"s":0.606},{"p":"K","g":"lo","t":97.1,"s":0.606},
{"p":"K","g":"hi","t":37.5,"s":0.75},{"p":"K","g":"hi","t":45.4,"s":0.701},{"p":"K","g":"hi","t":51.8,"s":0.701},{"p":"K","g":"hi","t":61.9,"s":0.701},{"p":"K","g":"hi","t":63.5,"s":0.701},{"p":"K","g":"hi","t":65,"s":0.701},{"p":"K","g":"hi","t":72.3,"s":0.701},{"p":"K","g":"hi","t":77.6,"s":0.701},{"p":"K","g":"hi","t":83.4,"s":0.701},{"p":"K","g":"hi","t":90,"s":0.701},{"p":"K","g":"hi","t":94.2,"s":0.701},
{"p":"L","g":"lo","t":35.9,"s":0.773},{"p":"L","g":"lo","t":37.2,"s":0.773},{"p":"L","g":"lo","t":43.4,"s":0.773},{"p":"L","g":"lo","t":49.2,"s":0.773},{"p":"L","g":"lo","t":50,"s":0.773},{"p":"L","g":"lo","t":61.2,"s":0.773},{"p":"L","g":"lo","t":65,"s":0.773},{"p":"L","g":"lo","t":65.8,"s":0.773},{"p":"L","g":"lo","t":68.7,"s":0.773},{"p":"L","g":"lo","t":70,"s":0.773},{"p":"L","g":"lo","t":73.7,"s":0.773},{"p":"L","g":"lo","t":74.9,"s":0.773},{"p":"L","g":"lo","t":77,"s":0.773},{"p":"L","g":"lo","t":82.8,"s":0.773},{"p":"L","g":"lo","t":83.6,"s":0.773},{"p":"L","g":"lo","t":85.7,"s":0.773},
{"p":"L","g":"hi","t":37,"s":0.788},{"p":"L","g":"hi","t":39.5,"s":0.769},{"p":"L","g":"hi","t":42,"s":0.75},{"p":"L","g":"hi","t":44,"s":0.741},{"p":"L","g":"hi","t":47.1,"s":0.706},{"p":"L","g":"hi","t":48.4,"s":0.706},{"p":"L","g":"hi","t":49.6,"s":0.706},{"p":"L","g":"hi","t":50.9,"s":0.706},{"p":"L","g":"hi","t":59.6,"s":0.706},{"p":"L","g":"hi","t":60.4,"s":0.706},{"p":"L","g":"hi","t":61.7,"s":0.706},{"p":"L","g":"hi","t":63.7,"s":0.689},{"p":"L","g":"hi","t":64.5,"s":0.689},{"p":"L","g":"hi","t":65.4,"s":0.689},{"p":"L","g":"hi","t":66.2,"s":0.689},{"p":"L","g":"hi","t":67,"s":0.689},{"p":"L","g":"hi","t":67.8,"s":0.689},{"p":"L","g":"hi","t":68.7,"s":0.689},{"p":"L","g":"hi","t":69.5,"s":0.689},{"p":"L","g":"hi","t":71.2,"s":0.689},{"p":"L","g":"hi","t":72.4,"s":0.689},{"p":"L","g":"hi","t":76.2,"s":0.689},{"p":"L","g":"hi","t":77.8,"s":0.689},{"p":"L","g":"hi","t":84.5,"s":0.689},{"p":"L","g":"hi","t":88.2,"s":0.689},{"p":"L","g":"hi","t":90.3,"s":0.689},{"p":"L","g":"hi","t":91.5,"s":0.689},{"p":"L","g":"hi","t":92.4,"s":0.689},{"p":"L","g":"hi","t":95.3,"s":0.603},{"p":"L","g":"hi","t":96.1,"s":0.603},{"p":"L","g":"hi","t":97,"s":0.603},{"p":"L","g":"hi","t":97.8,"s":0.603}
],
"risk":[
{"p":"E","r":"lo","t":0,"n":81},{"p":"E","r":"lo","t":20,"n":78},{"p":"E","r":"lo","t":40,"n":58},{"p":"E","r":"lo","t":60,"n":34},{"p":"E","r":"lo","t":80,"n":14},{"p":"E","r":"lo","t":100,"n":0},
{"p":"E","r":"hi","t":0,"n":76},{"p":"E","r":"hi","t":20,"n":56},{"p":"E","r":"hi","t":40,"n":41},{"p":"E","r":"hi","t":60,"n":26},{"p":"E","r":"hi","t":80,"n":9},{"p":"E","r":"hi","t":100,"n":0},
{"p":"F","r":"lo","t":0,"n":90},{"p":"F","r":"lo","t":20,"n":76},{"p":"F","r":"lo","t":40,"n":60},{"p":"F","r":"lo","t":60,"n":34},{"p":"F","r":"lo","t":80,"n":17},{"p":"F","r":"lo","t":100,"n":0},
{"p":"F","r":"hi","t":0,"n":67},{"p":"F","r":"hi","t":20,"n":58},{"p":"F","r":"hi","t":40,"n":39},{"p":"F","r":"hi","t":60,"n":26},{"p":"F","r":"hi","t":80,"n":6},{"p":"F","r":"hi","t":100,"n":0},
{"p":"G","r":"lo","t":0,"n":129},{"p":"G","r":"lo","t":20,"n":110},{"p":"G","r":"lo","t":40,"n":82},{"p":"G","r":"lo","t":60,"n":51},{"p":"G","r":"lo","t":80,"n":21},{"p":"G","r":"lo","t":100,"n":0},
{"p":"G","r":"hi","t":0,"n":28},{"p":"G","r":"hi","t":20,"n":24},{"p":"G","r":"hi","t":40,"n":17},{"p":"G","r":"hi","t":60,"n":9},{"p":"G","r":"hi","t":80,"n":2},{"p":"G","r":"hi","t":100,"n":0},
{"p":"H","r":"lo","t":0,"n":22},{"p":"H","r":"lo","t":20,"n":19},{"p":"H","r":"lo","t":40,"n":18},{"p":"H","r":"lo","t":60,"n":14},{"p":"H","r":"lo","t":80,"n":3},{"p":"H","r":"lo","t":100,"n":0},
{"p":"H","r":"hi","t":0,"n":135},{"p":"H","r":"hi","t":20,"n":115},{"p":"H","r":"hi","t":40,"n":81},{"p":"H","r":"hi","t":60,"n":46},{"p":"H","r":"hi","t":80,"n":20},{"p":"H","r":"hi","t":100,"n":0},
{"p":"I","r":"lo","t":0,"n":81},{"p":"I","r":"lo","t":20,"n":77},{"p":"I","r":"lo","t":40,"n":57},{"p":"I","r":"lo","t":60,"n":33},{"p":"I","r":"lo","t":80,"n":13},{"p":"I","r":"lo","t":100,"n":0},
{"p":"I","r":"hi","t":0,"n":76},{"p":"I","r":"hi","t":20,"n":53},{"p":"I","r":"hi","t":40,"n":38},{"p":"I","r":"hi","t":60,"n":25},{"p":"I","r":"hi","t":80,"n":8},{"p":"I","r":"hi","t":100,"n":0},
{"p":"J","r":"lo","t":0,"n":90},{"p":"J","r":"lo","t":20,"n":73},{"p":"J","r":"lo","t":40,"n":57},{"p":"J","r":"lo","t":60,"n":32},{"p":"J","r":"lo","t":80,"n":15},{"p":"J","r":"lo","t":100,"n":0},
{"p":"J","r":"hi","t":0,"n":67},{"p":"J","r":"hi","t":20,"n":57},{"p":"J","r":"hi","t":40,"n":38},{"p":"J","r":"hi","t":60,"n":26},{"p":"J","r":"hi","t":80,"n":6},{"p":"J","r":"hi","t":100,"n":0},
{"p":"K","r":"lo","t":0,"n":129},{"p":"K","r":"lo","t":20,"n":107},{"p":"K","r":"lo","t":40,"n":78},{"p":"K","r":"lo","t":60,"n":49},{"p":"K","r":"lo","t":80,"n":19},{"p":"K","r":"lo","t":100,"n":0},
{"p":"K","r":"hi","t":0,"n":28},{"p":"K","r":"hi","t":20,"n":23},{"p":"K","r":"hi","t":40,"n":17},{"p":"K","r":"hi","t":60,"n":9},{"p":"K","r":"hi","t":80,"n":2},{"p":"K","r":"hi","t":100,"n":0},
{"p":"L","r":"lo","t":0,"n":22},{"p":"L","r":"lo","t":20,"n":18},{"p":"L","r":"lo","t":40,"n":17},{"p":"L","r":"lo","t":60,"n":13},{"p":"L","r":"lo","t":80,"n":2},{"p":"L","r":"lo","t":100,"n":0},
{"p":"L","r":"hi","t":0,"n":135},{"p":"L","r":"hi","t":20,"n":112},{"p":"L","r":"hi","t":40,"n":78},{"p":"L","r":"hi","t":60,"n":45},{"p":"L","r":"hi","t":80,"n":19},{"p":"L","r":"hi","t":100,"n":0}
]
},
"columns":4,
"spacing":{"row":52,"column":65},
"bounds":"flush",
"concat":[
{"width":405,"height":400,"layer":[
 {"data":{"values":[{}]},"mark":{"type":"rule","strokeWidth":1.5,"strokeDash":[3,2.5],"color":"#111"},"encoding":{"x":{"datum":0},"y":{"datum":0},"x2":{"datum":1},"y2":{"datum":1}}},
 {"data":{"values":[{}]},"mark":{"type":"rule","strokeWidth":1.8,"color":"#111"},"encoding":{"x":{"datum":-0.004},"y":{"datum":1},"x2":{"datum":1.004}}},
 {"data":{"name":"roc"},"transform":[{"filter":"datum.p=='A'"}],"mark":{"type":"line","strokeWidth":2,"color":"#111"},"encoding":{"x":{"field":"fpr","type":"quantitative","scale":{"domain":[-0.004,1.004],"nice":false,"zero":false},"axis":{"values":[0,0.2,0.4,0.6,0.8,1],"format":".1f","title":"1-specificity"}},"y":{"field":"tpr","type":"quantitative","scale":{"domain":[0,1],"nice":false},"axis":{"values":[0,0.2,0.4,0.6,0.8,1],"format":".1f","title":"Sensitivity","titlePadding":9}},"order":{"value":null}}},
 {"data":{"values":[{}]},"mark":{"type":"point","shape":"M-0.6,-1L0.6,-1L0,1Z","size":90,"angle":-20,"filled":true,"opacity":1,"color":"#111"},"encoding":{"x":{"datum":0.312},"y":{"datum":0.866}}},
 {"data":{"values":[{}]},"mark":{"type":"text","text":"A","fontSize":33},"encoding":{"x":{"datum":-0.107},"y":{"datum":0.955}}},
 {"data":{"values":[{}]},"mark":{"type":"text","text":"p","fontStyle":"italic","fontSize":22,"align":"right"},"encoding":{"x":{"datum":0.817},"y":{"datum":0.046}}},
 {"data":{"values":[{}]},"mark":{"type":"text","text":"<0.001","fontSize":22,"align":"left"},"encoding":{"x":{"datum":0.817},"y":{"datum":0.046}}}
]},
{"width":405,"height":400,"layer":[
 {"data":{"values":[{}]},"mark":{"type":"rule","strokeWidth":1.5,"strokeDash":[3,2.5],"color":"#111"},"encoding":{"x":{"datum":0},"y":{"datum":0},"x2":{"datum":1},"y2":{"datum":1}}},
 {"data":{"values":[{}]},"mark":{"type":"rule","strokeWidth":1.8,"color":"#111"},"encoding":{"x":{"datum":-0.004},"y":{"datum":1},"x2":{"datum":1.004}}},
 {"data":{"name":"roc"},"transform":[{"filter":"datum.p=='B'"}],"mark":{"type":"line","strokeWidth":2,"color":"#111"},"encoding":{"x":{"field":"fpr","type":"quantitative","scale":{"domain":[-0.004,1.004],"nice":false,"zero":false},"axis":{"values":[0,0.2,0.4,0.6,0.8,1],"format":".1f","title":"1-specificity"}},"y":{"field":"tpr","type":"quantitative","scale":{"domain":[0,1],"nice":false},"axis":{"values":[0,0.2,0.4,0.6,0.8,1],"format":".1f","title":null}},"order":{"value":null}}},
 {"data":{"values":[{}]},"mark":{"type":"text","text":"B","fontSize":33},"encoding":{"x":{"datum":-0.115},"y":{"datum":0.955}}},
 {"data":{"values":[{}]},"mark":{"type":"text","text":"p","fontStyle":"italic","fontSize":22,"align":"right"},"encoding":{"x":{"datum":0.82},"y":{"datum":0.048}}},
 {"data":{"values":[{}]},"mark":{"type":"text","text":"=0.812","fontSize":22,"align":"left"},"encoding":{"x":{"datum":0.82},"y":{"datum":0.048}}}
]},
{"width":405,"height":400,"layer":[
 {"data":{"values":[{}]},"mark":{"type":"rule","strokeWidth":1.5,"strokeDash":[3,2.5],"color":"#111"},"encoding":{"x":{"datum":0},"y":{"datum":0},"x2":{"datum":1},"y2":{"datum":1}}},
 {"data":{"values":[{}]},"mark":{"type":"rule","strokeWidth":1.8,"color":"#111"},"encoding":{"x":{"datum":-0.004},"y":{"datum":1},"x2":{"datum":1.004}}},
 {"data":{"name":"roc"},"transform":[{"filter":"datum.p=='C'"}],"mark":{"type":"line","strokeWidth":2,"color":"#111"},"encoding":{"x":{"field":"fpr","type":"quantitative","scale":{"domain":[-0.004,1.004],"nice":false,"zero":false},"axis":{"values":[0,0.2,0.4,0.6,0.8,1],"format":".1f","title":"1-specificity"}},"y":{"field":"tpr","type":"quantitative","scale":{"domain":[0,1],"nice":false},"axis":{"values":[0,0.2,0.4,0.6,0.8,1],"format":".1f","title":null}},"order":{"value":null}}},
 {"data":{"values":[{}]},"mark":{"type":"text","text":"C","fontSize":33},"encoding":{"x":{"datum":-0.13},"y":{"datum":0.958}}},
 {"data":{"values":[{}]},"mark":{"type":"text","text":"p","fontStyle":"italic","fontSize":22,"align":"right"},"encoding":{"x":{"datum":0.825},"y":{"datum":0.058}}},
 {"data":{"values":[{}]},"mark":{"type":"text","text":"=0.871","fontSize":22,"align":"left"},"encoding":{"x":{"datum":0.825},"y":{"datum":0.058}}}
]},
{"width":405,"height":400,"layer":[
 {"data":{"values":[{}]},"mark":{"type":"rule","strokeWidth":1.5,"strokeDash":[3,2.5],"color":"#111"},"encoding":{"x":{"datum":0},"y":{"datum":0},"x2":{"datum":1},"y2":{"datum":1}}},
 {"data":{"values":[{}]},"mark":{"type":"rule","strokeWidth":1.8,"color":"#111"},"encoding":{"x":{"datum":-0.004},"y":{"datum":1},"x2":{"datum":1.004}}},
 {"data":{"name":"roc"},"transform":[{"filter":"datum.p=='D'"}],"mark":{"type":"line","strokeWidth":2,"color":"#111"},"encoding":{"x":{"field":"fpr","type":"quantitative","scale":{"domain":[-0.004,1.004],"nice":false,"zero":false},"axis":{"values":[0,0.2,0.4,0.6,0.8,1],"format":".1f","title":"1-specificity"}},"y":{"field":"tpr","type":"quantitative","scale":{"domain":[0,1],"nice":false},"axis":{"values":[0,0.2,0.4,0.6,0.8,1],"format":".1f","title":null}},"order":{"value":null}}},
 {"data":{"values":[{}]},"mark":{"type":"text","text":"D","fontSize":33},"encoding":{"x":{"datum":-0.13},"y":{"datum":0.955}}},
 {"data":{"values":[{}]},"mark":{"type":"text","text":"p","fontStyle":"italic","fontSize":22,"align":"right"},"encoding":{"x":{"datum":0.82},"y":{"datum":0.054}}},
 {"data":{"values":[{}]},"mark":{"type":"text","text":"=0.844","fontSize":22,"align":"left"},"encoding":{"x":{"datum":0.82},"y":{"datum":0.054}}}
]},
{"width":405,"height":413,"layer":[
 {"data":{"name":"km"},"transform":[{"filter":"datum.p=='E'&&datum.g=='lo'"}],"mark":{"type":"line","interpolate":"step-after","strokeWidth":1.3,"strokeDash":[4,3],"color":"#111"},"encoding":{"x":{"field":"t","type":"quantitative","scale":{"domain":[-1.2,100.5],"nice":false,"zero":false},"axis":{"values":[0,20,40,60,80,100],"labelExpr":"datum.value==0?'.00':format(datum.value,'.2f')","title":"OS (moths)"}},"y":{"field":"s","type":"quantitative","scale":{"domain":[0,1.04],"nice":false,"zero":false},"axis":{"values":[0,0.2,0.4,0.6,0.8,1],"format":".1f","title":"Cumulative survival","titlePadding":4}},"order":{"value":null}}},
 {"data":{"name":"km"},"transform":[{"filter":"datum.p=='E'&&datum.g=='hi'"}],"mark":{"type":"line","interpolate":"step-after","strokeWidth":3,"color":"#111"},"encoding":{"x":{"field":"t","type":"quantitative"},"y":{"field":"s","type":"quantitative"},"order":{"value":null}}},
 {"data":{"name":"cens"},"transform":[{"filter":"datum.p=='E'&&datum.g=='lo'"}],"mark":{"type":"point","shape":"M0,-1L0,1","size":90,"strokeWidth":1.4,"filled":false,"opacity":1,"color":"#111"},"encoding":{"x":{"field":"t","type":"quantitative"},"y":{"field":"s","type":"quantitative"}}},
 {"data":{"name":"cens"},"transform":[{"filter":"datum.p=='E'&&datum.g=='hi'"}],"mark":{"type":"point","shape":"M0,-1L0,1","size":110,"strokeWidth":2,"filled":false,"opacity":1,"color":"#111"},"encoding":{"x":{"field":"t","type":"quantitative"},"y":{"field":"s","type":"quantitative"}}},
 {"data":{"values":[{}]},"mark":{"type":"text","text":"E","fontSize":33},"encoding":{"x":{"datum":-10.8},"y":{"datum":0.93}}},
 {"data":{"values":[{}]},"mark":{"type":"point","shape":"M-1,0.22H0.15V-0.18H0.95V0.28","size":700,"strokeWidth":1.3,"strokeDash":[3,2],"filled":false,"opacity":1,"color":"#111"},"encoding":{"x":{"datum":8.7},"y":{"datum":0.217}}},
 {"data":{"values":[{}]},"mark":{"type":"point","shape":"M-1,0.22H0.15V-0.18H0.95V0.28","size":700,"strokeWidth":3.5,"filled":false,"opacity":1,"color":"#111"},"encoding":{"x":{"datum":8.7},"y":{"datum":0.169}}},
 {"data":{"values":[{}]},"mark":{"type":"text","text":"PABPC1 low-expression","align":"left"},"encoding":{"x":{"datum":14.5},"y":{"datum":0.217}}},
 {"data":{"values":[{}]},"mark":{"type":"text","text":"PABPC1 high-expression","align":"left"},"encoding":{"x":{"datum":14.5},"y":{"datum":0.169}}},
 {"data":{"values":[{}]},"mark":{"type":"text","text":"p","fontStyle":"italic","fontSize":22,"align":"right"},"encoding":{"x":{"datum":7.8},"y":{"datum":0.07}}},
 {"data":{"values":[{}]},"mark":{"type":"text","text":"<0.001","fontSize":22,"align":"left"},"encoding":{"x":{"datum":7.8},"y":{"datum":0.07}}}
]},
{"width":405,"height":413,"layer":[
 {"data":{"name":"km"},"transform":[{"filter":"datum.p=='F'&&datum.g=='lo'"}],"mark":{"type":"line","interpolate":"step-after","strokeWidth":1.3,"strokeDash":[4,3],"color":"#111"},"encoding":{"x":{"field":"t","type":"quantitative","scale":{"domain":[-1.2,100.5],"nice":false,"zero":false},"axis":{"values":[0,20,40,60,80,100],"labelExpr":"datum.value==0?'.00':format(datum.value,'.2f')","title":"OS (moths)"}},"y":{"field":"s","type":"quantitative","scale":{"domain":[0,1.04],"nice":false,"zero":false},"axis":{"values":[0,0.2,0.4,0.6,0.8,1],"format":".1f","title":null}},"order":{"value":null}}},
 {"data":{"name":"km"},"transform":[{"filter":"datum.p=='F'&&datum.g=='hi'"}],"mark":{"type":"line","interpolate":"step-after","strokeWidth":3,"color":"#111"},"encoding":{"x":{"field":"t","type":"quantitative"},"y":{"field":"s","type":"quantitative"},"order":{"value":null}}},
 {"data":{"name":"cens"},"transform":[{"filter":"datum.p=='F'&&datum.g=='lo'"}],"mark":{"type":"point","shape":"M0,-1L0,1","size":90,"strokeWidth":1.4,"filled":false,"opacity":1,"color":"#111"},"encoding":{"x":{"field":"t","type":"quantitative"},"y":{"field":"s","type":"quantitative"}}},
 {"data":{"name":"cens"},"transform":[{"filter":"datum.p=='F'&&datum.g=='hi'"}],"mark":{"type":"point","shape":"M0,-1L0,1","size":110,"strokeWidth":2,"filled":false,"opacity":1,"color":"#111"},"encoding":{"x":{"field":"t","type":"quantitative"},"y":{"field":"s","type":"quantitative"}}},
 {"data":{"values":[{}]},"mark":{"type":"text","text":"F","fontSize":33},"encoding":{"x":{"datum":-12.5},"y":{"datum":0.946}}},
 {"data":{"values":[{}]},"mark":{"type":"point","shape":"M-1,0.22H0.15V-0.18H0.95V0.28","size":700,"strokeWidth":1.3,"strokeDash":[3,2],"filled":false,"opacity":1,"color":"#111"},"encoding":{"x":{"datum":10},"y":{"datum":0.22}}},
 {"data":{"values":[{}]},"mark":{"type":"point","shape":"M-1,0.22H0.15V-0.18H0.95V0.28","size":700,"strokeWidth":3.5,"filled":false,"opacity":1,"color":"#111"},"encoding":{"x":{"datum":10},"y":{"datum":0.171}}},
 {"data":{"values":[{}]},"mark":{"type":"text","text":"Ki-67 low-expression","align":"left"},"encoding":{"x":{"datum":15.4},"y":{"datum":0.22}}},
 {"data":{"values":[{}]},"mark":{"type":"text","text":"Ki-67 high-expression","align":"left"},"encoding":{"x":{"datum":15.4},"y":{"datum":0.171}}},
 {"data":{"values":[{}]},"mark":{"type":"text","text":"p","fontStyle":"italic","fontSize":22,"align":"right"},"encoding":{"x":{"datum":8.7},"y":{"datum":0.075}}},
 {"data":{"values":[{}]},"mark":{"type":"text","text":"=0.752","fontSize":22,"align":"left"},"encoding":{"x":{"datum":8.7},"y":{"datum":0.075}}}
]},
{"width":405,"height":413,"layer":[
 {"data":{"name":"km"},"transform":[{"filter":"datum.p=='G'&&datum.g=='lo'"}],"mark":{"type":"line","interpolate":"step-after","strokeWidth":1.3,"strokeDash":[4,3],"color":"#111"},"encoding":{"x":{"field":"t","type":"quantitative","scale":{"domain":[-1.2,100.5],"nice":false,"zero":false},"axis":{"values":[0,20,40,60,80,100],"labelExpr":"datum.value==0?'.00':format(datum.value,'.2f')","title":"OS (moths)"}},"y":{"field":"s","type":"quantitative","scale":{"domain":[0,1.04],"nice":false,"zero":false},"axis":{"values":[0,0.2,0.4,0.6,0.8,1],"format":".1f","title":null}},"order":{"value":null}}},
 {"data":{"name":"km"},"transform":[{"filter":"datum.p=='G'&&datum.g=='hi'"}],"mark":{"type":"line","interpolate":"step-after","strokeWidth":3,"color":"#111"},"encoding":{"x":{"field":"t","type":"quantitative"},"y":{"field":"s","type":"quantitative"},"order":{"value":null}}},
 {"data":{"name":"cens"},"transform":[{"filter":"datum.p=='G'&&datum.g=='lo'"}],"mark":{"type":"point","shape":"M0,-1L0,1","size":90,"strokeWidth":1.4,"filled":false,"opacity":1,"color":"#111"},"encoding":{"x":{"field":"t","type":"quantitative"},"y":{"field":"s","type":"quantitative"}}},
 {"data":{"name":"cens"},"transform":[{"filter":"datum.p=='G'&&datum.g=='hi'"}],"mark":{"type":"point","shape":"M0,-1L0,1","size":110,"strokeWidth":2,"filled":false,"opacity":1,"color":"#111"},"encoding":{"x":{"field":"t","type":"quantitative"},"y":{"field":"s","type":"quantitative"}}},
 {"data":{"values":[{}]},"mark":{"type":"text","text":"G","fontSize":33},"encoding":{"x":{"datum":-12},"y":{"datum":0.937}}},
 {"data":{"values":[{}]},"mark":{"type":"point","shape":"M-1,0.22H0.15V-0.18H0.95V0.28","size":700,"strokeWidth":1.3,"strokeDash":[3,2],"filled":false,"opacity":1,"color":"#111"},"encoding":{"x":{"datum":11.2},"y":{"datum":0.234}}},
 {"data":{"values":[{}]},"mark":{"type":"point","shape":"M-1,0.22H0.15V-0.18H0.95V0.28","size":700,"strokeWidth":3.5,"filled":false,"opacity":1,"color":"#111"},"encoding":{"x":{"datum":11.2},"y":{"datum":0.183}}},
 {"data":{"values":[{}]},"mark":{"type":"text","text":"p53 low-expression","align":"left"},"encoding":{"x":{"datum":17.2},"y":{"datum":0.234}}},
 {"data":{"values":[{}]},"mark":{"type":"text","text":"p53 high-expression","align":"left"},"encoding":{"x":{"datum":17.2},"y":{"datum":0.183}}},
 {"data":{"values":[{}]},"mark":{"type":"text","text":"p","fontStyle":"italic","fontSize":22,"align":"right"},"encoding":{"x":{"datum":9.7},"y":{"datum":0.082}}},
 {"data":{"values":[{}]},"mark":{"type":"text","text":"=0.811","fontSize":22,"align":"left"},"encoding":{"x":{"datum":9.7},"y":{"datum":0.082}}}
]},
{"width":405,"height":413,"layer":[
 {"data":{"name":"km"},"transform":[{"filter":"datum.p=='H'&&datum.g=='lo'"}],"mark":{"type":"line","interpolate":"step-after","strokeWidth":1.3,"strokeDash":[4,3],"color":"#111"},"encoding":{"x":{"field":"t","type":"quantitative","scale":{"domain":[-1.2,100.5],"nice":false,"zero":false},"axis":{"values":[0,20,40,60,80,100],"labelExpr":"datum.value==0?'.00':format(datum.value,'.2f')","title":"OS (moths)"}},"y":{"field":"s","type":"quantitative","scale":{"domain":[0,1.04],"nice":false,"zero":false},"axis":{"values":[0,0.2,0.4,0.6,0.8,1],"format":".1f","title":null}},"order":{"value":null}}},
 {"data":{"name":"km"},"transform":[{"filter":"datum.p=='H'&&datum.g=='hi'"}],"mark":{"type":"line","interpolate":"step-after","strokeWidth":3,"color":"#111"},"encoding":{"x":{"field":"t","type":"quantitative"},"y":{"field":"s","type":"quantitative"},"order":{"value":null}}},
 {"data":{"name":"cens"},"transform":[{"filter":"datum.p=='H'&&datum.g=='lo'"}],"mark":{"type":"point","shape":"M0,-1L0,1","size":90,"strokeWidth":1.4,"filled":false,"opacity":1,"color":"#111"},"encoding":{"x":{"field":"t","type":"quantitative"},"y":{"field":"s","type":"quantitative"}}},
 {"data":{"name":"cens"},"transform":[{"filter":"datum.p=='H'&&datum.g=='hi'"}],"mark":{"type":"point","shape":"M0,-1L0,1","size":110,"strokeWidth":2,"filled":false,"opacity":1,"color":"#111"},"encoding":{"x":{"field":"t","type":"quantitative"},"y":{"field":"s","type":"quantitative"}}},
 {"data":{"values":[{}]},"mark":{"type":"text","text":"H","fontSize":33},"encoding":{"x":{"datum":-13.7},"y":{"datum":0.946}}},
 {"data":{"values":[{}]},"mark":{"type":"point","shape":"M-1,0.22H0.15V-0.18H0.95V0.28","size":700,"strokeWidth":1.3,"strokeDash":[3,2],"filled":false,"opacity":1,"color":"#111"},"encoding":{"x":{"datum":11},"y":{"datum":0.227}}},
 {"data":{"values":[{}]},"mark":{"type":"point","shape":"M-1,0.22H0.15V-0.18H0.95V0.28","size":700,"strokeWidth":3.5,"filled":false,"opacity":1,"color":"#111"},"encoding":{"x":{"datum":11},"y":{"datum":0.179}}},
 {"data":{"values":[{}]},"mark":{"type":"text","text":"EBER low-expression","align":"left"},"encoding":{"x":{"datum":16},"y":{"datum":0.227}}},
 {"data":{"values":[{}]},"mark":{"type":"text","text":"EBER high-expression","align":"left"},"encoding":{"x":{"datum":16},"y":{"datum":0.179}}},
 {"data":{"values":[{}]},"mark":{"type":"text","text":"p","fontStyle":"italic","fontSize":22,"align":"right"},"encoding":{"x":{"datum":10},"y":{"datum":0.08}}},
 {"data":{"values":[{}]},"mark":{"type":"text","text":"=0.748","fontSize":22,"align":"left"},"encoding":{"x":{"datum":10},"y":{"datum":0.08}}}
]},
{"width":405,"height":90,"layer":[
 {"data":{"name":"risk"},"transform":[{"filter":"datum.p=='E'"}],"mark":{"type":"text","align":"center"},"encoding":{"x":{"field":"t","type":"quantitative","scale":{"domain":[-1.2,100.5],"nice":false,"zero":false},"axis":{"values":[0,20,40,60,80,100],"labelExpr":"datum.value==0?'.00':format(datum.value,'.2f')","title":null}},"y":{"field":"r","type":"nominal","scale":{"type":"point","domain":["hdr","lo","hi"],"padding":0.6},"axis":null},"text":{"field":"n","type":"quantitative"}}},
 {"data":{"values":[{"r":"hdr"}]},"mark":{"type":"text","text":"Number at risk","align":"left"},"encoding":{"x":{"datum":-0.8},"y":{"field":"r","type":"nominal"}}},
 {"data":{"values":[{"r":"lo"}]},"mark":{"type":"point","shape":"M-1,0.22H0.15V-0.18H0.95V0.28","size":650,"strokeWidth":1.3,"strokeDash":[3,2],"filled":false,"opacity":1,"color":"#111"},"encoding":{"x":{"datum":-7.7},"y":{"field":"r","type":"nominal"}}},
 {"data":{"values":[{"r":"hi"}]},"mark":{"type":"point","shape":"M-1,0.22H0.15V-0.18H0.95V0.28","size":650,"strokeWidth":3.5,"filled":false,"opacity":1,"color":"#111"},"encoding":{"x":{"datum":-7.7},"y":{"field":"r","type":"nominal"}}}
]},
{"width":427,"height":90,"layer":[
 {"data":{"name":"risk"},"transform":[{"filter":"datum.p=='F'"}],"mark":{"type":"text","align":"center"},"encoding":{"x":{"field":"t","type":"quantitative","scale":{"domain":[-1.2,100.5],"nice":false,"zero":false,"rangeMax":405},"axis":{"values":[0,20,40,60,80,100],"labelExpr":"datum.value==0?'.00':format(datum.value,'.2f')","title":null}},"y":{"field":"r","type":"nominal","scale":{"type":"point","domain":["hdr","lo","hi"],"padding":0.6},"axis":null},"text":{"field":"n","type":"quantitative"}}},
 {"data":{"values":[{"r":"hdr"}]},"mark":{"type":"text","text":"Number at risk","align":"left"},"encoding":{"x":{"datum":-0.8},"y":{"field":"r","type":"nominal"}}},
 {"data":{"values":[{"r":"lo"}]},"mark":{"type":"point","shape":"M-1,0.22H0.15V-0.18H0.95V0.28","size":650,"strokeWidth":1.3,"strokeDash":[3,2],"filled":false,"opacity":1,"color":"#111"},"encoding":{"x":{"datum":-7.7},"y":{"field":"r","type":"nominal"}}},
 {"data":{"values":[{"r":"hi"}]},"mark":{"type":"point","shape":"M-1,0.22H0.15V-0.18H0.95V0.28","size":650,"strokeWidth":3.5,"filled":false,"opacity":1,"color":"#111"},"encoding":{"x":{"datum":-7.7},"y":{"field":"r","type":"nominal"}}}
]},
{"width":417,"height":90,"layer":[
 {"data":{"name":"risk"},"transform":[{"filter":"datum.p=='G'"}],"mark":{"type":"text","align":"center"},"encoding":{"x":{"field":"t","type":"quantitative","scale":{"domain":[-1.2,100.5],"nice":false,"zero":false,"rangeMax":405},"axis":{"values":[0,20,40,60,80,100],"labelExpr":"datum.value==0?'.00':format(datum.value,'.2f')","title":null}},"y":{"field":"r","type":"nominal","scale":{"type":"point","domain":["hdr","lo","hi"],"padding":0.6},"axis":null},"text":{"field":"n","type":"quantitative"}}},
 {"data":{"values":[{"r":"hdr"}]},"mark":{"type":"text","text":"Number at risk","align":"left"},"encoding":{"x":{"datum":-0.8},"y":{"field":"r","type":"nominal"}}},
 {"data":{"values":[{"r":"lo"}]},"mark":{"type":"point","shape":"M-1,0.22H0.15V-0.18H0.95V0.28","size":650,"strokeWidth":1.3,"strokeDash":[3,2],"filled":false,"opacity":1,"color":"#111"},"encoding":{"x":{"datum":-7.7},"y":{"field":"r","type":"nominal"}}},
 {"data":{"values":[{"r":"hi"}]},"mark":{"type":"point","shape":"M-1,0.22H0.15V-0.18H0.95V0.28","size":650,"strokeWidth":3.5,"filled":false,"opacity":1,"color":"#111"},"encoding":{"x":{"datum":-7.7},"y":{"field":"r","type":"nominal"}}}
]},
{"width":405,"height":90,"layer":[
 {"data":{"name":"risk"},"transform":[{"filter":"datum.p=='H'"}],"mark":{"type":"text","align":"center"},"encoding":{"x":{"field":"t","type":"quantitative","scale":{"domain":[-1.2,100.5],"nice":false,"zero":false},"axis":{"values":[0,20,40,60,80,100],"labelExpr":"datum.value==0?'.00':format(datum.value,'.2f')","title":null}},"y":{"field":"r","type":"nominal","scale":{"type":"point","domain":["hdr","lo","hi"],"padding":0.6},"axis":null},"text":{"field":"n","type":"quantitative"}}},
 {"data":{"values":[{"r":"hdr"}]},"mark":{"type":"text","text":"Number at risk","align":"left"},"encoding":{"x":{"datum":-0.8},"y":{"field":"r","type":"nominal"}}},
 {"data":{"values":[{"r":"lo"}]},"mark":{"type":"point","shape":"M-1,0.22H0.15V-0.18H0.95V0.28","size":650,"strokeWidth":1.3,"strokeDash":[3,2],"filled":false,"opacity":1,"color":"#111"},"encoding":{"x":{"datum":-7.7},"y":{"field":"r","type":"nominal"}}},
 {"data":{"values":[{"r":"hi"}]},"mark":{"type":"point","shape":"M-1,0.22H0.15V-0.18H0.95V0.28","size":650,"strokeWidth":3.5,"filled":false,"opacity":1,"color":"#111"},"encoding":{"x":{"datum":-7.7},"y":{"field":"r","type":"nominal"}}}
]},
{"width":405,"height":406,"layer":[
 {"data":{"name":"km"},"transform":[{"filter":"datum.p=='I'&&datum.g=='lo'"}],"mark":{"type":"line","interpolate":"step-after","strokeWidth":1.3,"strokeDash":[4,3],"color":"#111"},"encoding":{"x":{"field":"t","type":"quantitative","scale":{"domain":[-1.2,100.5],"nice":false,"zero":false},"axis":{"values":[0,20,40,60,80,100],"labelExpr":"datum.value==0?'.00':format(datum.value,'.2f')","title":"DFS (months)"}},"y":{"field":"s","type":"quantitative","scale":{"domain":[0,1.025],"nice":false,"zero":false},"axis":{"values":[0,0.2,0.4,0.6,0.8,1],"format":".1f","title":"Cumulative survival","titlePadding":4}},"order":{"value":null}}},
 {"data":{"name":"km"},"transform":[{"filter":"datum.p=='I'&&datum.g=='hi'"}],"mark":{"type":"line","interpolate":"step-after","strokeWidth":3,"color":"#111"},"encoding":{"x":{"field":"t","type":"quantitative"},"y":{"field":"s","type":"quantitative"},"order":{"value":null}}},
 {"data":{"name":"cens"},"transform":[{"filter":"datum.p=='I'&&datum.g=='lo'"}],"mark":{"type":"point","shape":"M0,-1L0,1","size":90,"strokeWidth":1.4,"filled":false,"opacity":1,"color":"#111"},"encoding":{"x":{"field":"t","type":"quantitative"},"y":{"field":"s","type":"quantitative"}}},
 {"data":{"name":"cens"},"transform":[{"filter":"datum.p=='I'&&datum.g=='hi'"}],"mark":{"type":"point","shape":"M0,-1L0,1","size":110,"strokeWidth":2,"filled":false,"opacity":1,"color":"#111"},"encoding":{"x":{"field":"t","type":"quantitative"},"y":{"field":"s","type":"quantitative"}}},
 {"data":{"values":[{}]},"mark":{"type":"text","text":"I","fontSize":33},"encoding":{"x":{"datum":-11.7},"y":{"datum":0.936}}},
 {"data":{"values":[{}]},"mark":{"type":"point","shape":"M-1,0.22H0.15V-0.18H0.95V0.28","size":700,"strokeWidth":1.3,"strokeDash":[3,2],"filled":false,"opacity":1,"color":"#111"},"encoding":{"x":{"datum":8.5},"y":{"datum":0.218}}},
 {"data":{"values":[{}]},"mark":{"type":"point","shape":"M-1,0.22H0.15V-0.18H0.95V0.28","size":700,"strokeWidth":3.5,"filled":false,"opacity":1,"color":"#111"},"encoding":{"x":{"datum":8.5},"y":{"datum":0.169}}},
 {"data":{"values":[{}]},"mark":{"type":"text","text":"PABPC1 low-expression","align":"left"},"encoding":{"x":{"datum":14.1},"y":{"datum":0.218}}},
 {"data":{"values":[{}]},"mark":{"type":"text","text":"PABPC1 high-expression","align":"left"},"encoding":{"x":{"datum":14.1},"y":{"datum":0.169}}},
 {"data":{"values":[{}]},"mark":{"type":"text","text":"p","fontStyle":"italic","fontSize":22,"align":"right"},"encoding":{"x":{"datum":7.5},"y":{"datum":0.074}}},
 {"data":{"values":[{}]},"mark":{"type":"text","text":"<0.001","fontSize":22,"align":"left"},"encoding":{"x":{"datum":7.5},"y":{"datum":0.074}}}
]},
{"width":405,"height":406,"layer":[
 {"data":{"name":"km"},"transform":[{"filter":"datum.p=='J'&&datum.g=='lo'"}],"mark":{"type":"line","interpolate":"step-after","strokeWidth":1.3,"strokeDash":[4,3],"color":"#111"},"encoding":{"x":{"field":"t","type":"quantitative","scale":{"domain":[-1.2,100.5],"nice":false,"zero":false},"axis":{"values":[0,20,40,60,80,100],"labelExpr":"datum.value==0?'.00':format(datum.value,'.2f')","title":"DFS (months)"}},"y":{"field":"s","type":"quantitative","scale":{"domain":[0,1.025],"nice":false,"zero":false},"axis":{"values":[0,0.2,0.4,0.6,0.8,1],"format":".1f","title":null}},"order":{"value":null}}},
 {"data":{"name":"km"},"transform":[{"filter":"datum.p=='J'&&datum.g=='hi'"}],"mark":{"type":"line","interpolate":"step-after","strokeWidth":3,"color":"#111"},"encoding":{"x":{"field":"t","type":"quantitative"},"y":{"field":"s","type":"quantitative"},"order":{"value":null}}},
 {"data":{"name":"cens"},"transform":[{"filter":"datum.p=='J'&&datum.g=='lo'"}],"mark":{"type":"point","shape":"M0,-1L0,1","size":90,"strokeWidth":1.4,"filled":false,"opacity":1,"color":"#111"},"encoding":{"x":{"field":"t","type":"quantitative"},"y":{"field":"s","type":"quantitative"}}},
 {"data":{"name":"cens"},"transform":[{"filter":"datum.p=='J'&&datum.g=='hi'"}],"mark":{"type":"point","shape":"M0,-1L0,1","size":110,"strokeWidth":2,"filled":false,"opacity":1,"color":"#111"},"encoding":{"x":{"field":"t","type":"quantitative"},"y":{"field":"s","type":"quantitative"}}},
 {"data":{"values":[{}]},"mark":{"type":"text","text":"J","fontSize":33},"encoding":{"x":{"datum":-12.3},"y":{"datum":0.943}}},
 {"data":{"values":[{}]},"mark":{"type":"point","shape":"M-1,0.22H0.15V-0.18H0.95V0.28","size":700,"strokeWidth":1.3,"strokeDash":[3,2],"filled":false,"opacity":1,"color":"#111"},"encoding":{"x":{"datum":8.1},"y":{"datum":0.232}}},
 {"data":{"values":[{}]},"mark":{"type":"point","shape":"M-1,0.22H0.15V-0.18H0.95V0.28","size":700,"strokeWidth":3.5,"filled":false,"opacity":1,"color":"#111"},"encoding":{"x":{"datum":8.1},"y":{"datum":0.182}}},
 {"data":{"values":[{}]},"mark":{"type":"text","text":"Ki-67 low-expression","align":"left"},"encoding":{"x":{"datum":13.5},"y":{"datum":0.232}}},
 {"data":{"values":[{}]},"mark":{"type":"text","text":"Ki-67 high-expression","align":"left"},"encoding":{"x":{"datum":13.5},"y":{"datum":0.182}}},
 {"data":{"values":[{}]},"mark":{"type":"text","text":"p","fontStyle":"italic","fontSize":22,"align":"right"},"encoding":{"x":{"datum":6.6},"y":{"datum":0.085}}},
 {"data":{"values":[{}]},"mark":{"type":"text","text":"=0.257","fontSize":22,"align":"left"},"encoding":{"x":{"datum":6.6},"y":{"datum":0.085}}}
]},
{"width":405,"height":406,"layer":[
 {"data":{"name":"km"},"transform":[{"filter":"datum.p=='K'&&datum.g=='lo'"}],"mark":{"type":"line","interpolate":"step-after","strokeWidth":1.3,"strokeDash":[4,3],"color":"#111"},"encoding":{"x":{"field":"t","type":"quantitative","scale":{"domain":[-1.2,100.5],"nice":false,"zero":false},"axis":{"values":[0,20,40,60,80,100],"labelExpr":"datum.value==0?'.00':format(datum.value,'.2f')","title":"DFS (months)"}},"y":{"field":"s","type":"quantitative","scale":{"domain":[0,1.025],"nice":false,"zero":false},"axis":{"values":[0,0.2,0.4,0.6,0.8,1],"format":".1f","title":null}},"order":{"value":null}}},
 {"data":{"name":"km"},"transform":[{"filter":"datum.p=='K'&&datum.g=='hi'"}],"mark":{"type":"line","interpolate":"step-after","strokeWidth":3,"color":"#111"},"encoding":{"x":{"field":"t","type":"quantitative"},"y":{"field":"s","type":"quantitative"},"order":{"value":null}}},
 {"data":{"name":"cens"},"transform":[{"filter":"datum.p=='K'&&datum.g=='lo'"}],"mark":{"type":"point","shape":"M0,-1L0,1","size":90,"strokeWidth":1.4,"filled":false,"opacity":1,"color":"#111"},"encoding":{"x":{"field":"t","type":"quantitative"},"y":{"field":"s","type":"quantitative"}}},
 {"data":{"name":"cens"},"transform":[{"filter":"datum.p=='K'&&datum.g=='hi'"}],"mark":{"type":"point","shape":"M0,-1L0,1","size":110,"strokeWidth":2,"filled":false,"opacity":1,"color":"#111"},"encoding":{"x":{"field":"t","type":"quantitative"},"y":{"field":"s","type":"quantitative"}}},
 {"data":{"values":[{}]},"mark":{"type":"text","text":"K","fontSize":33},"encoding":{"x":{"datum":-12},"y":{"datum":0.938}}},
 {"data":{"values":[{}]},"mark":{"type":"point","shape":"M-1,0.22H0.15V-0.18H0.95V0.28","size":700,"strokeWidth":1.3,"strokeDash":[3,2],"filled":false,"opacity":1,"color":"#111"},"encoding":{"x":{"datum":9.5},"y":{"datum":0.234}}},
 {"data":{"values":[{}]},"mark":{"type":"point","shape":"M-1,0.22H0.15V-0.18H0.95V0.28","size":700,"strokeWidth":3.5,"filled":false,"opacity":1,"color":"#111"},"encoding":{"x":{"datum":9.5},"y":{"datum":0.183}}},
 {"data":{"values":[{}]},"mark":{"type":"text","text":"p53 low-expression","align":"left"},"encoding":{"x":{"datum":15.1},"y":{"datum":0.234}}},
 {"data":{"values":[{}]},"mark":{"type":"text","text":"p53 high-expression","align":"left"},"encoding":{"x":{"datum":15.1},"y":{"datum":0.183}}},
 {"data":{"values":[{}]},"mark":{"type":"text","text":"p","fontStyle":"italic","fontSize":22,"align":"right"},"encoding":{"x":{"datum":7.7},"y":{"datum":0.085}}},
 {"data":{"values":[{}]},"mark":{"type":"text","text":"=0.896","fontSize":22,"align":"left"},"encoding":{"x":{"datum":7.7},"y":{"datum":0.085}}}
]},
{"width":405,"height":406,"layer":[
 {"data":{"name":"km"},"transform":[{"filter":"datum.p=='L'&&datum.g=='lo'"}],"mark":{"type":"line","interpolate":"step-after","strokeWidth":1.3,"strokeDash":[4,3],"color":"#111"},"encoding":{"x":{"field":"t","type":"quantitative","scale":{"domain":[-1.2,100.5],"nice":false,"zero":false},"axis":{"values":[0,20,40,60,80,100],"labelExpr":"datum.value==0?'.00':format(datum.value,'.2f')","title":"DFS (months)"}},"y":{"field":"s","type":"quantitative","scale":{"domain":[0,1.025],"nice":false,"zero":false},"axis":{"values":[0,0.2,0.4,0.6,0.8,1],"format":".1f","title":null}},"order":{"value":null}}},
 {"data":{"name":"km"},"transform":[{"filter":"datum.p=='L'&&datum.g=='hi'"}],"mark":{"type":"line","interpolate":"step-after","strokeWidth":3,"color":"#111"},"encoding":{"x":{"field":"t","type":"quantitative"},"y":{"field":"s","type":"quantitative"},"order":{"value":null}}},
 {"data":{"name":"cens"},"transform":[{"filter":"datum.p=='L'&&datum.g=='lo'"}],"mark":{"type":"point","shape":"M0,-1L0,1","size":90,"strokeWidth":1.4,"filled":false,"opacity":1,"color":"#111"},"encoding":{"x":{"field":"t","type":"quantitative"},"y":{"field":"s","type":"quantitative"}}},
 {"data":{"name":"cens"},"transform":[{"filter":"datum.p=='L'&&datum.g=='hi'"}],"mark":{"type":"point","shape":"M0,-1L0,1","size":110,"strokeWidth":2,"filled":false,"opacity":1,"color":"#111"},"encoding":{"x":{"field":"t","type":"quantitative"},"y":{"field":"s","type":"quantitative"}}},
 {"data":{"values":[{}]},"mark":{"type":"text","text":"L","fontSize":33},"encoding":{"x":{"datum":-12.8},"y":{"datum":0.935}}},
 {"data":{"values":[{}]},"mark":{"type":"point","shape":"M-1,0.22H0.15V-0.18H0.95V0.28","size":700,"strokeWidth":1.3,"strokeDash":[3,2],"filled":false,"opacity":1,"color":"#111"},"encoding":{"x":{"datum":9.1},"y":{"datum":0.233}}},
 {"data":{"values":[{}]},"mark":{"type":"point","shape":"M-1,0.22H0.15V-0.18H0.95V0.28","size":700,"strokeWidth":3.5,"filled":false,"opacity":1,"color":"#111"},"encoding":{"x":{"datum":9.1},"y":{"datum":0.18}}},
 {"data":{"values":[{}]},"mark":{"type":"text","text":"EBER low-expression","align":"left"},"encoding":{"x":{"datum":14.1},"y":{"datum":0.233}}},
 {"data":{"values":[{}]},"mark":{"type":"text","text":"EBER high-expression","align":"left"},"encoding":{"x":{"datum":14.1},"y":{"datum":0.18}}},
 {"data":{"values":[{}]},"mark":{"type":"text","text":"p","fontStyle":"italic","fontSize":22,"align":"right"},"encoding":{"x":{"datum":7.7},"y":{"datum":0.083}}},
 {"data":{"values":[{}]},"mark":{"type":"text","text":"=0.572","fontSize":22,"align":"left"},"encoding":{"x":{"datum":7.7},"y":{"datum":0.083}}}
]},
{"width":405,"height":91,"layer":[
 {"data":{"name":"risk"},"transform":[{"filter":"datum.p=='I'"}],"mark":{"type":"text","align":"center"},"encoding":{"x":{"field":"t","type":"quantitative","scale":{"domain":[-1.2,100.5],"nice":false,"zero":false},"axis":{"values":[0,20,40,60,80,100],"labelExpr":"datum.value==0?'.00':format(datum.value,'.2f')","title":null}},"y":{"field":"r","type":"nominal","scale":{"type":"point","domain":["hdr","lo","hi"],"padding":0.6},"axis":null},"text":{"field":"n","type":"quantitative"}}},
 {"data":{"values":[{"r":"hdr"}]},"mark":{"type":"text","text":"Number at risk","align":"left"},"encoding":{"x":{"datum":-0.8},"y":{"field":"r","type":"nominal"}}},
 {"data":{"values":[{"r":"lo"}]},"mark":{"type":"point","shape":"M-1,0.22H0.15V-0.18H0.95V0.28","size":650,"strokeWidth":1.3,"strokeDash":[3,2],"filled":false,"opacity":1,"color":"#111"},"encoding":{"x":{"datum":-7.7},"y":{"field":"r","type":"nominal"}}},
 {"data":{"values":[{"r":"hi"}]},"mark":{"type":"point","shape":"M-1,0.22H0.15V-0.18H0.95V0.28","size":650,"strokeWidth":3.5,"filled":false,"opacity":1,"color":"#111"},"encoding":{"x":{"datum":-7.7},"y":{"field":"r","type":"nominal"}}}
]},
{"width":405,"height":91,"layer":[
 {"data":{"name":"risk"},"transform":[{"filter":"datum.p=='J'"}],"mark":{"type":"text","align":"center"},"encoding":{"x":{"field":"t","type":"quantitative","scale":{"domain":[-1.2,100.5],"nice":false,"zero":false},"axis":{"values":[0,20,40,60,80,100],"labelExpr":"datum.value==0?'.00':format(datum.value,'.2f')","title":null}},"y":{"field":"r","type":"nominal","scale":{"type":"point","domain":["hdr","lo","hi"],"padding":0.6},"axis":null},"text":{"field":"n","type":"quantitative"}}},
 {"data":{"values":[{"r":"hdr"}]},"mark":{"type":"text","text":"Number at risk","align":"left"},"encoding":{"x":{"datum":-0.8},"y":{"field":"r","type":"nominal"}}},
 {"data":{"values":[{"r":"lo"}]},"mark":{"type":"point","shape":"M-1,0.22H0.15V-0.18H0.95V0.28","size":650,"strokeWidth":1.3,"strokeDash":[3,2],"filled":false,"opacity":1,"color":"#111"},"encoding":{"x":{"datum":-7.7},"y":{"field":"r","type":"nominal"}}},
 {"data":{"values":[{"r":"hi"}]},"mark":{"type":"point","shape":"M-1,0.22H0.15V-0.18H0.95V0.28","size":650,"strokeWidth":3.5,"filled":false,"opacity":1,"color":"#111"},"encoding":{"x":{"datum":-7.7},"y":{"field":"r","type":"nominal"}}}
]},
{"width":405,"height":91,"layer":[
 {"data":{"name":"risk"},"transform":[{"filter":"datum.p=='K'"}],"mark":{"type":"text","align":"center"},"encoding":{"x":{"field":"t","type":"quantitative","scale":{"domain":[-1.2,100.5],"nice":false,"zero":false},"axis":{"values":[0,20,40,60,80,100],"labelExpr":"datum.value==0?'.00':format(datum.value,'.2f')","title":null}},"y":{"field":"r","type":"nominal","scale":{"type":"point","domain":["hdr","lo","hi"],"padding":0.6},"axis":null},"text":{"field":"n","type":"quantitative"}}},
 {"data":{"values":[{"r":"hdr"}]},"mark":{"type":"text","text":"Number at risk","align":"left"},"encoding":{"x":{"datum":-0.8},"y":{"field":"r","type":"nominal"}}},
 {"data":{"values":[{"r":"lo"}]},"mark":{"type":"point","shape":"M-1,0.22H0.15V-0.18H0.95V0.28","size":650,"strokeWidth":1.3,"strokeDash":[3,2],"filled":false,"opacity":1,"color":"#111"},"encoding":{"x":{"datum":-7.7},"y":{"field":"r","type":"nominal"}}},
 {"data":{"values":[{"r":"hi"}]},"mark":{"type":"point","shape":"M-1,0.22H0.15V-0.18H0.95V0.28","size":650,"strokeWidth":3.5,"filled":false,"opacity":1,"color":"#111"},"encoding":{"x":{"datum":-7.7},"y":{"field":"r","type":"nominal"}}}
]},
{"width":405,"height":91,"layer":[
 {"data":{"name":"risk"},"transform":[{"filter":"datum.p=='L'"}],"mark":{"type":"text","align":"center"},"encoding":{"x":{"field":"t","type":"quantitative","scale":{"domain":[-1.2,100.5],"nice":false,"zero":false},"axis":{"values":[0,20,40,60,80,100],"labelExpr":"datum.value==0?'.00':format(datum.value,'.2f')","title":null}},"y":{"field":"r","type":"nominal","scale":{"type":"point","domain":["hdr","lo","hi"],"padding":0.6},"axis":null},"text":{"field":"n","type":"quantitative"}}},
 {"data":{"values":[{"r":"hdr"}]},"mark":{"type":"text","text":"Number at risk","align":"left"},"encoding":{"x":{"datum":-0.8},"y":{"field":"r","type":"nominal"}}},
 {"data":{"values":[{"r":"lo"}]},"mark":{"type":"point","shape":"M-1,0.22H0.15V-0.18H0.95V0.28","size":650,"strokeWidth":1.3,"strokeDash":[3,2],"filled":false,"opacity":1,"color":"#111"},"encoding":{"x":{"datum":-7.7},"y":{"field":"r","type":"nominal"}}},
 {"data":{"values":[{"r":"hi"}]},"mark":{"type":"point","shape":"M-1,0.22H0.15V-0.18H0.95V0.28","size":650,"strokeWidth":3.5,"filled":false,"opacity":1,"color":"#111"},"encoding":{"x":{"datum":-7.7},"y":{"field":"r","type":"nominal"}}}
]}
]
}
